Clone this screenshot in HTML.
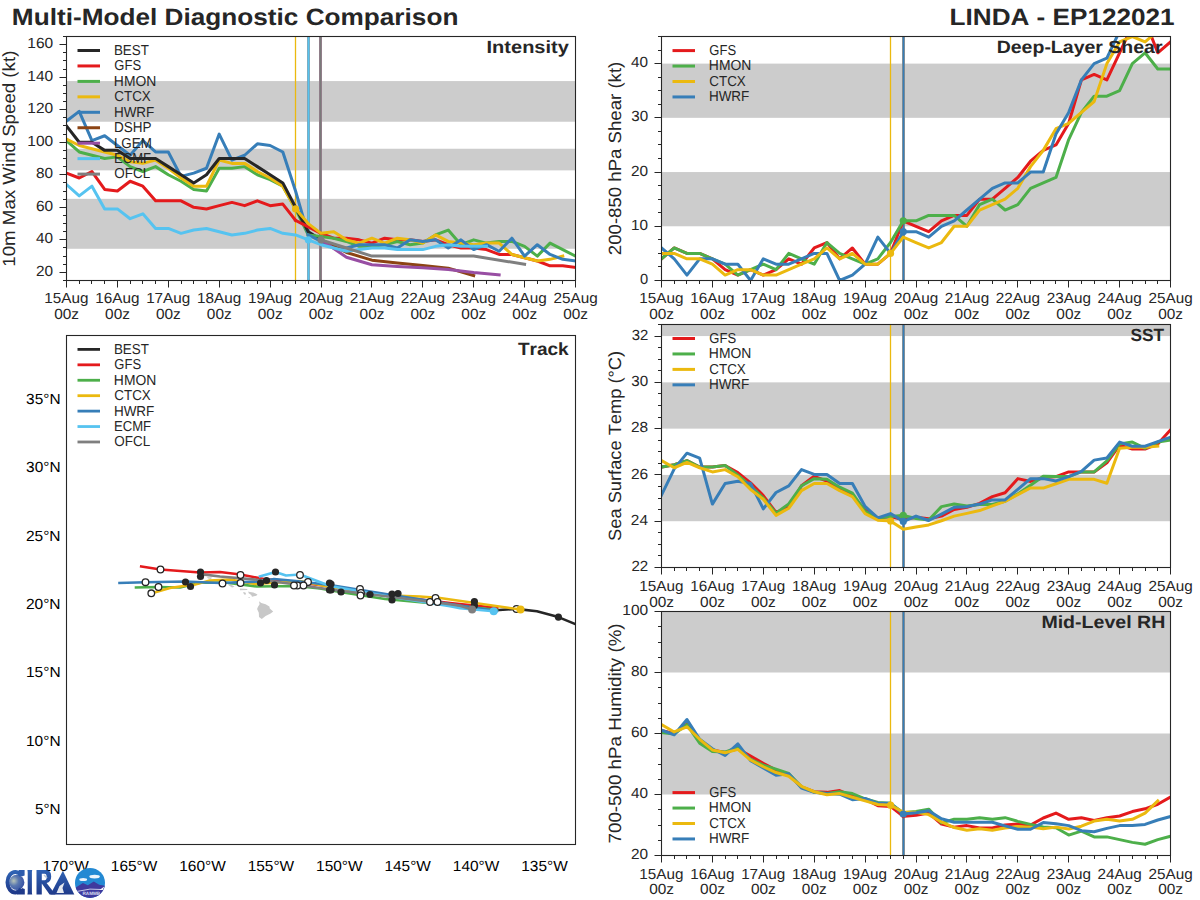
<!DOCTYPE html>
<html><head><meta charset="utf-8"><style>
html,body{margin:0;padding:0;background:#fff;width:1200px;height:900px;overflow:hidden}
svg text{font-family:"Liberation Sans", sans-serif;font-kerning:none;text-rendering:geometricPrecision}
</style></head><body>
<svg width="1200" height="900" viewBox="0 0 1200 900" style="display:block">
<rect width="1200" height="900" fill="#ffffff"/>
<defs>
<clipPath id="a1"><rect x="66.5" y="36.5" width="509.0" height="244.0"/></clipPath>
<clipPath id="a2"><rect x="661.5" y="36.5" width="509.0" height="244.0"/></clipPath>
<clipPath id="a4"><rect x="661.5" y="324.5" width="509.0" height="243.0"/></clipPath>
<clipPath id="a5"><rect x="661.5" y="611.5" width="509.0" height="244.0"/></clipPath>
<clipPath id="tr"><rect x="66.5" y="335.5" width="509.0" height="509.0"/></clipPath>
</defs>
<text transform="translate(11.85,25.00) scale(1.1126,1)" font-size="23.54" font-weight="bold" fill="#262626">Multi-Model Diagnostic Comparison</text>
<text transform="translate(949.55,25.00) scale(1.1102,1)" font-size="23.54" font-weight="bold" fill="#262626">LINDA - EP122021</text>
<rect x="66.5" y="198.84" width="509.0" height="49.94" fill="#cccccc"/>
<rect x="66.5" y="148.74" width="509.0" height="21.63" fill="#cccccc"/>
<rect x="66.5" y="81.07" width="509.0" height="40.67" fill="#cccccc"/>
<line x1="295.50" y1="36.50" x2="295.50" y2="280.50" stroke="#ebb90f" stroke-width="1.3" />
<line x1="308.50" y1="36.50" x2="308.50" y2="280.50" stroke="#7a9fad" stroke-width="2.8" />
<line x1="308.50" y1="36.50" x2="308.50" y2="280.50" stroke="#56c3f0" stroke-width="1.5" />
<line x1="320.50" y1="36.50" x2="320.50" y2="280.50" stroke="#9a8090" stroke-width="3.0" />
<line x1="320.50" y1="36.50" x2="320.50" y2="280.50" stroke="#7a7a7a" stroke-width="1.6" />
<polyline points="66.50,173.14 79.22,178.02 91.95,171.51 104.67,189.41 117.40,191.03 130.12,181.27 142.85,186.15 155.57,200.79 168.30,200.79 181.03,200.79 193.75,207.30 206.48,208.93 219.20,205.67 231.93,202.42 244.65,205.67 257.38,200.79 270.10,205.67 282.82,204.05 295.55,220.31" fill="none" stroke="#e41a1c" stroke-width="3.0" stroke-linejoin="round" stroke-linecap="square" clip-path="url(#a1)" />
<polyline points="66.50,140.61 79.22,151.99 91.95,155.25 104.67,158.50 117.40,156.87 130.12,166.63 142.85,171.51 155.57,166.63 168.30,174.77 181.03,181.27 193.75,189.41 206.48,191.03 219.20,168.26 231.93,168.26 244.65,166.63 257.38,174.77 270.10,179.65 282.82,186.15 295.55,208.93 308.27,234.95" fill="none" stroke="#4daf4a" stroke-width="3.0" stroke-linejoin="round" stroke-linecap="square" clip-path="url(#a1)" />
<polyline points="66.50,121.09 79.22,111.33 91.95,140.61 104.67,135.73 117.40,145.49 130.12,155.25 142.85,140.61 155.57,151.99 168.30,151.99 181.03,176.39 193.75,173.14 206.48,168.26 219.20,134.10 231.93,160.13 244.65,155.25 257.38,143.86 270.10,145.49 282.82,151.99 295.55,191.03 308.27,234.95" fill="none" stroke="#377eb8" stroke-width="3.0" stroke-linejoin="round" stroke-linecap="square" clip-path="url(#a1)" />
<polyline points="66.50,138.98 79.22,145.49 91.95,148.74 104.67,151.99 117.40,155.25 130.12,161.75 142.85,163.38 155.57,160.13 168.30,168.26 181.03,178.02 193.75,186.15 206.48,186.15 219.20,160.13 231.93,163.38 244.65,163.38 257.38,171.51 270.10,178.02 282.82,186.15 295.55,208.93" fill="none" stroke="#ebb90f" stroke-width="3.0" stroke-linejoin="round" stroke-linecap="square" clip-path="url(#a1)" />
<polyline points="66.50,184.53 79.22,195.91 91.95,186.15 104.67,208.93 117.40,208.93 130.12,218.69 142.85,213.81 155.57,228.45 168.30,228.45 181.03,233.33 193.75,230.07 206.48,228.45 219.20,231.70 231.93,234.95 244.65,233.33 257.38,230.07 270.10,228.45 282.82,233.33 295.55,234.95 308.27,239.83" fill="none" stroke="#56c3f0" stroke-width="3.0" stroke-linejoin="round" stroke-linecap="square" clip-path="url(#a1)" />
<polyline points="66.50,125.97 79.22,142.23 91.95,142.23 104.67,150.37 117.40,150.37 130.12,158.50 142.85,158.50 155.57,158.50 168.30,166.63 181.03,174.77 193.75,182.90 206.48,174.77 219.20,158.50 231.93,158.50 244.65,158.50 257.38,166.63 270.10,174.77 282.82,182.90 295.55,207.30 308.27,231.70 321.00,239.83" fill="none" stroke="#262626" stroke-width="3.0" stroke-linejoin="round" stroke-linecap="square" clip-path="url(#a1)" />
<polyline points="295.55,220.31 308.27,226.82 321.00,233.33 333.73,238.21 346.45,238.21 359.17,239.83 371.90,243.09 384.62,238.21 397.35,239.83 410.08,239.83 422.80,241.46 435.52,239.83 448.25,244.71 460.98,247.97 473.70,247.97 486.42,249.59 499.15,254.47 511.88,254.47 524.60,257.73 537.33,260.98 550.05,265.86 562.77,265.86 575.50,267.49" fill="none" stroke="#e41a1c" stroke-width="3.0" stroke-linejoin="round" stroke-linecap="square" clip-path="url(#a1)" />
<polyline points="308.27,234.95 321.00,236.58 333.73,238.21 346.45,241.46 359.17,246.34 371.90,246.34 384.62,244.71 397.35,241.46 410.08,244.71 422.80,243.09 435.52,234.95 448.25,230.07 460.98,244.71 473.70,239.83 486.42,243.09 499.15,241.46 511.88,241.46 524.60,246.34 537.33,256.10 550.05,243.09 562.77,249.59 575.50,256.10" fill="none" stroke="#4daf4a" stroke-width="3.0" stroke-linejoin="round" stroke-linecap="square" clip-path="url(#a1)" />
<polyline points="295.55,208.93 308.27,223.57 321.00,233.33 333.73,231.70 346.45,239.83 359.17,243.09 371.90,238.21 384.62,243.09 397.35,238.21 410.08,239.83 422.80,243.09 435.52,234.95 448.25,241.46 460.98,243.09 473.70,244.71 486.42,243.09 499.15,243.09 511.88,254.47 524.60,257.73 537.33,260.98 550.05,259.35 562.77,256.10" fill="none" stroke="#ebb90f" stroke-width="3.0" stroke-linejoin="round" stroke-linecap="square" clip-path="url(#a1)" />
<polyline points="308.27,234.95 321.00,241.46 333.73,247.97 346.45,247.97 359.17,244.71 371.90,244.71 384.62,244.71 397.35,247.97 410.08,239.83 422.80,241.46 435.52,239.83 448.25,247.97 460.98,239.83 473.70,249.59 486.42,244.71 499.15,251.22 511.88,238.21 524.60,256.10 537.33,244.71 550.05,254.47 562.77,259.35 575.50,260.98" fill="none" stroke="#377eb8" stroke-width="3.0" stroke-linejoin="round" stroke-linecap="square" clip-path="url(#a1)" />
<polyline points="321.00,239.83 346.45,252.52 371.90,260.17 397.35,262.93 422.80,265.53 448.25,268.14 473.70,275.62" fill="none" stroke="#8c4414" stroke-width="3.0" stroke-linejoin="round" stroke-linecap="square" clip-path="url(#a1)" />
<polyline points="321.00,239.83 346.45,257.24 371.90,264.72 397.35,266.51 422.80,267.81 448.25,269.44 473.70,272.53 499.15,274.97" fill="none" stroke="#984ea3" stroke-width="3.0" stroke-linejoin="round" stroke-linecap="square" clip-path="url(#a1)" />
<polyline points="308.27,239.83 321.00,244.71 333.73,247.97 346.45,251.22 359.17,249.59 371.90,247.97 384.62,247.97 397.35,249.59 410.08,249.59 422.80,249.59 435.52,246.34 448.25,244.71 460.98,246.34 473.70,246.34 486.42,246.34" fill="none" stroke="#56c3f0" stroke-width="3.0" stroke-linejoin="round" stroke-linecap="square" clip-path="url(#a1)" />
<polyline points="321.00,239.83 346.45,247.97 371.90,256.10 473.70,256.10 524.60,264.23" fill="none" stroke="#7f7f7f" stroke-width="3.0" stroke-linejoin="round" stroke-linecap="square" clip-path="url(#a1)" />
<circle cx="295.55" cy="208.93" r="3.6" fill="#ebb90f" stroke="none" stroke-width="0"/>
<circle cx="308.27" cy="239.83" r="3.6" fill="#56c3f0" stroke="none" stroke-width="0"/>
<circle cx="321.00" cy="239.83" r="3.6" fill="#7f7f7f" stroke="none" stroke-width="0"/>
<rect x="66.5" y="36.5" width="509.0" height="244.0" fill="none" stroke="#262626" stroke-width="1.1"/>
<line x1="63.00" y1="280.50" x2="66.50" y2="280.50" stroke="#262626" stroke-width="1.0" />
<line x1="63.00" y1="272.50" x2="66.50" y2="272.50" stroke="#262626" stroke-width="1.0" />
<line x1="63.00" y1="264.50" x2="66.50" y2="264.50" stroke="#262626" stroke-width="1.0" />
<line x1="63.00" y1="256.50" x2="66.50" y2="256.50" stroke="#262626" stroke-width="1.0" />
<line x1="63.00" y1="247.50" x2="66.50" y2="247.50" stroke="#262626" stroke-width="1.0" />
<line x1="63.00" y1="239.50" x2="66.50" y2="239.50" stroke="#262626" stroke-width="1.0" />
<line x1="63.00" y1="231.50" x2="66.50" y2="231.50" stroke="#262626" stroke-width="1.0" />
<line x1="63.00" y1="223.50" x2="66.50" y2="223.50" stroke="#262626" stroke-width="1.0" />
<line x1="63.00" y1="215.50" x2="66.50" y2="215.50" stroke="#262626" stroke-width="1.0" />
<line x1="63.00" y1="207.50" x2="66.50" y2="207.50" stroke="#262626" stroke-width="1.0" />
<line x1="63.00" y1="199.50" x2="66.50" y2="199.50" stroke="#262626" stroke-width="1.0" />
<line x1="63.00" y1="191.50" x2="66.50" y2="191.50" stroke="#262626" stroke-width="1.0" />
<line x1="63.00" y1="182.50" x2="66.50" y2="182.50" stroke="#262626" stroke-width="1.0" />
<line x1="63.00" y1="174.50" x2="66.50" y2="174.50" stroke="#262626" stroke-width="1.0" />
<line x1="63.00" y1="166.50" x2="66.50" y2="166.50" stroke="#262626" stroke-width="1.0" />
<line x1="63.00" y1="158.50" x2="66.50" y2="158.50" stroke="#262626" stroke-width="1.0" />
<line x1="63.00" y1="150.50" x2="66.50" y2="150.50" stroke="#262626" stroke-width="1.0" />
<line x1="63.00" y1="142.50" x2="66.50" y2="142.50" stroke="#262626" stroke-width="1.0" />
<line x1="63.00" y1="134.50" x2="66.50" y2="134.50" stroke="#262626" stroke-width="1.0" />
<line x1="63.00" y1="125.50" x2="66.50" y2="125.50" stroke="#262626" stroke-width="1.0" />
<line x1="63.00" y1="117.50" x2="66.50" y2="117.50" stroke="#262626" stroke-width="1.0" />
<line x1="63.00" y1="109.50" x2="66.50" y2="109.50" stroke="#262626" stroke-width="1.0" />
<line x1="63.00" y1="101.50" x2="66.50" y2="101.50" stroke="#262626" stroke-width="1.0" />
<line x1="63.00" y1="93.50" x2="66.50" y2="93.50" stroke="#262626" stroke-width="1.0" />
<line x1="63.00" y1="85.50" x2="66.50" y2="85.50" stroke="#262626" stroke-width="1.0" />
<line x1="63.00" y1="77.50" x2="66.50" y2="77.50" stroke="#262626" stroke-width="1.0" />
<line x1="63.00" y1="69.50" x2="66.50" y2="69.50" stroke="#262626" stroke-width="1.0" />
<line x1="63.00" y1="60.50" x2="66.50" y2="60.50" stroke="#262626" stroke-width="1.0" />
<line x1="63.00" y1="52.50" x2="66.50" y2="52.50" stroke="#262626" stroke-width="1.0" />
<line x1="63.00" y1="44.50" x2="66.50" y2="44.50" stroke="#262626" stroke-width="1.0" />
<line x1="63.00" y1="36.50" x2="66.50" y2="36.50" stroke="#262626" stroke-width="1.0" />
<line x1="59.50" y1="272.50" x2="66.50" y2="272.50" stroke="#262626" stroke-width="1.0" />
<text transform="translate(35.99,275.97) scale(1.0451,1)" font-size="14.72" font-weight="normal" fill="#262626">20</text>
<line x1="59.50" y1="239.50" x2="66.50" y2="239.50" stroke="#262626" stroke-width="1.0" />
<text transform="translate(36.07,243.43) scale(1.0398,1)" font-size="14.72" font-weight="normal" fill="#262626">40</text>
<line x1="59.50" y1="207.50" x2="66.50" y2="207.50" stroke="#262626" stroke-width="1.0" />
<text transform="translate(35.93,210.90) scale(1.0488,1)" font-size="14.72" font-weight="normal" fill="#262626">60</text>
<line x1="59.50" y1="174.50" x2="66.50" y2="174.50" stroke="#262626" stroke-width="1.0" />
<text transform="translate(36.02,178.37) scale(1.0431,1)" font-size="14.72" font-weight="normal" fill="#262626">80</text>
<line x1="59.50" y1="142.50" x2="66.50" y2="142.50" stroke="#262626" stroke-width="1.0" />
<text transform="translate(27.26,145.83) scale(1.0526,1)" font-size="14.72" font-weight="normal" fill="#262626">100</text>
<line x1="59.50" y1="109.50" x2="66.50" y2="109.50" stroke="#262626" stroke-width="1.0" />
<text transform="translate(27.26,113.30) scale(1.0526,1)" font-size="14.72" font-weight="normal" fill="#262626">120</text>
<line x1="59.50" y1="77.50" x2="66.50" y2="77.50" stroke="#262626" stroke-width="1.0" />
<text transform="translate(27.26,80.77) scale(1.0526,1)" font-size="14.72" font-weight="normal" fill="#262626">140</text>
<line x1="59.50" y1="44.50" x2="66.50" y2="44.50" stroke="#262626" stroke-width="1.0" />
<text transform="translate(27.26,48.23) scale(1.0526,1)" font-size="14.72" font-weight="normal" fill="#262626">160</text>
<line x1="66.50" y1="280.50" x2="66.50" y2="287.50" stroke="#262626" stroke-width="1.0" />
<line x1="79.50" y1="280.50" x2="79.50" y2="284.00" stroke="#262626" stroke-width="1.0" />
<line x1="91.50" y1="280.50" x2="91.50" y2="284.00" stroke="#262626" stroke-width="1.0" />
<line x1="104.50" y1="280.50" x2="104.50" y2="284.00" stroke="#262626" stroke-width="1.0" />
<line x1="117.50" y1="280.50" x2="117.50" y2="287.50" stroke="#262626" stroke-width="1.0" />
<line x1="130.50" y1="280.50" x2="130.50" y2="284.00" stroke="#262626" stroke-width="1.0" />
<line x1="142.50" y1="280.50" x2="142.50" y2="284.00" stroke="#262626" stroke-width="1.0" />
<line x1="155.50" y1="280.50" x2="155.50" y2="284.00" stroke="#262626" stroke-width="1.0" />
<line x1="168.50" y1="280.50" x2="168.50" y2="287.50" stroke="#262626" stroke-width="1.0" />
<line x1="181.50" y1="280.50" x2="181.50" y2="284.00" stroke="#262626" stroke-width="1.0" />
<line x1="193.50" y1="280.50" x2="193.50" y2="284.00" stroke="#262626" stroke-width="1.0" />
<line x1="206.50" y1="280.50" x2="206.50" y2="284.00" stroke="#262626" stroke-width="1.0" />
<line x1="219.50" y1="280.50" x2="219.50" y2="287.50" stroke="#262626" stroke-width="1.0" />
<line x1="231.50" y1="280.50" x2="231.50" y2="284.00" stroke="#262626" stroke-width="1.0" />
<line x1="244.50" y1="280.50" x2="244.50" y2="284.00" stroke="#262626" stroke-width="1.0" />
<line x1="257.50" y1="280.50" x2="257.50" y2="284.00" stroke="#262626" stroke-width="1.0" />
<line x1="270.50" y1="280.50" x2="270.50" y2="287.50" stroke="#262626" stroke-width="1.0" />
<line x1="282.50" y1="280.50" x2="282.50" y2="284.00" stroke="#262626" stroke-width="1.0" />
<line x1="295.50" y1="280.50" x2="295.50" y2="284.00" stroke="#262626" stroke-width="1.0" />
<line x1="308.50" y1="280.50" x2="308.50" y2="284.00" stroke="#262626" stroke-width="1.0" />
<line x1="321.50" y1="280.50" x2="321.50" y2="287.50" stroke="#262626" stroke-width="1.0" />
<line x1="333.50" y1="280.50" x2="333.50" y2="284.00" stroke="#262626" stroke-width="1.0" />
<line x1="346.50" y1="280.50" x2="346.50" y2="284.00" stroke="#262626" stroke-width="1.0" />
<line x1="359.50" y1="280.50" x2="359.50" y2="284.00" stroke="#262626" stroke-width="1.0" />
<line x1="371.50" y1="280.50" x2="371.50" y2="287.50" stroke="#262626" stroke-width="1.0" />
<line x1="384.50" y1="280.50" x2="384.50" y2="284.00" stroke="#262626" stroke-width="1.0" />
<line x1="397.50" y1="280.50" x2="397.50" y2="284.00" stroke="#262626" stroke-width="1.0" />
<line x1="410.50" y1="280.50" x2="410.50" y2="284.00" stroke="#262626" stroke-width="1.0" />
<line x1="422.50" y1="280.50" x2="422.50" y2="287.50" stroke="#262626" stroke-width="1.0" />
<line x1="435.50" y1="280.50" x2="435.50" y2="284.00" stroke="#262626" stroke-width="1.0" />
<line x1="448.50" y1="280.50" x2="448.50" y2="284.00" stroke="#262626" stroke-width="1.0" />
<line x1="460.50" y1="280.50" x2="460.50" y2="284.00" stroke="#262626" stroke-width="1.0" />
<line x1="473.50" y1="280.50" x2="473.50" y2="287.50" stroke="#262626" stroke-width="1.0" />
<line x1="486.50" y1="280.50" x2="486.50" y2="284.00" stroke="#262626" stroke-width="1.0" />
<line x1="499.50" y1="280.50" x2="499.50" y2="284.00" stroke="#262626" stroke-width="1.0" />
<line x1="511.50" y1="280.50" x2="511.50" y2="284.00" stroke="#262626" stroke-width="1.0" />
<line x1="524.50" y1="280.50" x2="524.50" y2="287.50" stroke="#262626" stroke-width="1.0" />
<line x1="537.50" y1="280.50" x2="537.50" y2="284.00" stroke="#262626" stroke-width="1.0" />
<line x1="550.50" y1="280.50" x2="550.50" y2="284.00" stroke="#262626" stroke-width="1.0" />
<line x1="562.50" y1="280.50" x2="562.50" y2="284.00" stroke="#262626" stroke-width="1.0" />
<line x1="575.50" y1="280.50" x2="575.50" y2="287.50" stroke="#262626" stroke-width="1.0" />
<text transform="translate(44.33,303.00) scale(1.0376,1)" font-size="14.72" font-weight="normal" fill="#262626">15Aug</text>
<text transform="translate(54.17,318.50) scale(1.0460,1)" font-size="14.72" font-weight="normal" fill="#262626">00z</text>
<text transform="translate(95.23,303.00) scale(1.0376,1)" font-size="14.72" font-weight="normal" fill="#262626">16Aug</text>
<text transform="translate(105.07,318.50) scale(1.0460,1)" font-size="14.72" font-weight="normal" fill="#262626">00z</text>
<text transform="translate(146.13,303.00) scale(1.0376,1)" font-size="14.72" font-weight="normal" fill="#262626">17Aug</text>
<text transform="translate(155.97,318.50) scale(1.0460,1)" font-size="14.72" font-weight="normal" fill="#262626">00z</text>
<text transform="translate(197.03,303.00) scale(1.0376,1)" font-size="14.72" font-weight="normal" fill="#262626">18Aug</text>
<text transform="translate(206.87,318.50) scale(1.0460,1)" font-size="14.72" font-weight="normal" fill="#262626">00z</text>
<text transform="translate(247.93,303.00) scale(1.0376,1)" font-size="14.72" font-weight="normal" fill="#262626">19Aug</text>
<text transform="translate(257.77,318.50) scale(1.0460,1)" font-size="14.72" font-weight="normal" fill="#262626">00z</text>
<text transform="translate(298.97,303.00) scale(1.0403,1)" font-size="14.72" font-weight="normal" fill="#262626">20Aug</text>
<text transform="translate(308.67,318.50) scale(1.0460,1)" font-size="14.72" font-weight="normal" fill="#262626">00z</text>
<text transform="translate(349.87,303.00) scale(1.0403,1)" font-size="14.72" font-weight="normal" fill="#262626">21Aug</text>
<text transform="translate(359.57,318.50) scale(1.0460,1)" font-size="14.72" font-weight="normal" fill="#262626">00z</text>
<text transform="translate(400.77,303.00) scale(1.0403,1)" font-size="14.72" font-weight="normal" fill="#262626">22Aug</text>
<text transform="translate(410.47,318.50) scale(1.0460,1)" font-size="14.72" font-weight="normal" fill="#262626">00z</text>
<text transform="translate(451.67,303.00) scale(1.0403,1)" font-size="14.72" font-weight="normal" fill="#262626">23Aug</text>
<text transform="translate(461.37,318.50) scale(1.0460,1)" font-size="14.72" font-weight="normal" fill="#262626">00z</text>
<text transform="translate(502.57,303.00) scale(1.0403,1)" font-size="14.72" font-weight="normal" fill="#262626">24Aug</text>
<text transform="translate(512.27,318.50) scale(1.0460,1)" font-size="14.72" font-weight="normal" fill="#262626">00z</text>
<text transform="translate(553.47,303.00) scale(1.0403,1)" font-size="14.72" font-weight="normal" fill="#262626">25Aug</text>
<text transform="translate(563.17,318.50) scale(1.0460,1)" font-size="14.72" font-weight="normal" fill="#262626">00z</text>
<text transform="translate(14.90,158.50) rotate(-90) translate(-108.20,0) scale(1.0586,1)" font-size="17.66" font-weight="normal" fill="#262626">10m Max Wind Speed (kt)</text>
<text transform="translate(486.56,52.70) scale(1.1331,1)" font-size="17.66" font-weight="bold" fill="#262626">Intensity</text>
<line x1="77.50" y1="50.50" x2="100.00" y2="50.50" stroke="#262626" stroke-width="3.0" />
<text transform="translate(113.90,54.80) scale(0.9292,1)" font-size="14.41" font-weight="normal" fill="#262626">BEST</text>
<line x1="77.50" y1="65.95" x2="100.00" y2="65.95" stroke="#e41a1c" stroke-width="3.0" />
<text transform="translate(114.35,70.25) scale(0.9021,1)" font-size="14.41" font-weight="normal" fill="#262626">GFS</text>
<line x1="77.50" y1="81.40" x2="100.00" y2="81.40" stroke="#4daf4a" stroke-width="3.0" />
<text transform="translate(113.86,85.70) scale(0.9640,1)" font-size="14.41" font-weight="normal" fill="#262626">HMON</text>
<line x1="77.50" y1="96.85" x2="100.00" y2="96.85" stroke="#ebb90f" stroke-width="3.0" />
<text transform="translate(114.32,101.15) scale(0.9276,1)" font-size="14.41" font-weight="normal" fill="#262626">CTCX</text>
<line x1="77.50" y1="112.30" x2="100.00" y2="112.30" stroke="#377eb8" stroke-width="3.0" />
<text transform="translate(113.89,116.60) scale(0.9364,1)" font-size="14.41" font-weight="normal" fill="#262626">HWRF</text>
<line x1="77.50" y1="127.75" x2="100.00" y2="127.75" stroke="#8c4414" stroke-width="3.0" />
<text transform="translate(113.89,132.05) scale(0.9380,1)" font-size="14.41" font-weight="normal" fill="#262626">DSHP</text>
<line x1="77.50" y1="143.20" x2="100.00" y2="143.20" stroke="#984ea3" stroke-width="3.0" />
<text transform="translate(113.90,147.50) scale(0.9299,1)" font-size="14.41" font-weight="normal" fill="#262626">LGEM</text>
<line x1="77.50" y1="158.65" x2="100.00" y2="158.65" stroke="#56c3f0" stroke-width="3.0" />
<text transform="translate(113.93,162.95) scale(0.9092,1)" font-size="14.41" font-weight="normal" fill="#262626">ECMF</text>
<line x1="77.50" y1="174.10" x2="100.00" y2="174.10" stroke="#7f7f7f" stroke-width="3.0" />
<text transform="translate(114.36,178.40) scale(0.9327,1)" font-size="14.41" font-weight="normal" fill="#262626">OFCL</text>
<rect x="661.5" y="172.06" width="509.0" height="54.22" fill="#cccccc"/>
<rect x="661.5" y="63.61" width="509.0" height="54.22" fill="#cccccc"/>
<line x1="890.50" y1="36.50" x2="890.50" y2="280.50" stroke="#ebb90f" stroke-width="1.3" />
<line x1="903.50" y1="36.50" x2="903.50" y2="280.50" stroke="#8a8a85" stroke-width="2.8" />
<line x1="903.50" y1="36.50" x2="903.50" y2="280.50" stroke="#377eb8" stroke-width="1.5" />
<polyline points="661.50,258.81 674.23,247.97 686.95,253.39 699.67,253.39 712.40,258.81 725.12,269.66 737.85,275.08 750.58,269.66 763.30,275.08 776.02,269.66 788.75,258.81 801.48,264.23 814.20,247.97 826.92,242.54 839.65,258.81 852.38,247.97 865.10,264.23 877.83,264.23 890.55,253.39 903.27,220.86" fill="none" stroke="#e41a1c" stroke-width="3.0" stroke-linejoin="round" stroke-linecap="square" clip-path="url(#a2)" />
<polyline points="661.50,258.81 674.23,247.97 686.95,253.39 699.67,253.39 712.40,258.81 725.12,264.23 737.85,275.08 750.58,269.66 763.30,264.23 776.02,269.66 788.75,253.39 801.48,258.81 814.20,264.23 826.92,242.54 839.65,253.39 852.38,258.81 865.10,264.23 877.83,258.81 890.55,242.54 903.27,220.86" fill="none" stroke="#4daf4a" stroke-width="3.0" stroke-linejoin="round" stroke-linecap="square" clip-path="url(#a2)" />
<polyline points="661.50,247.97 674.23,258.81 686.95,275.08 699.67,258.81 712.40,258.81 725.12,264.23 737.85,264.23 750.58,280.50 763.30,258.81 776.02,264.23 788.75,264.23 801.48,258.81 814.20,253.39 826.92,253.39 839.65,280.50 852.38,275.08 865.10,264.23 877.83,237.12 890.55,253.39 903.27,231.70" fill="none" stroke="#377eb8" stroke-width="3.0" stroke-linejoin="round" stroke-linecap="square" clip-path="url(#a2)" />
<polyline points="661.50,253.39 674.23,253.39 686.95,258.81 699.67,258.81 712.40,264.23 725.12,275.08 737.85,269.66 750.58,269.66 763.30,275.08 776.02,275.08 788.75,269.66 801.48,264.23 814.20,258.81 826.92,247.97 839.65,258.81 852.38,253.39 865.10,264.23 877.83,264.23 890.55,253.39" fill="none" stroke="#ebb90f" stroke-width="3.0" stroke-linejoin="round" stroke-linecap="square" clip-path="url(#a2)" />
<polyline points="903.27,220.86 916.00,226.28 928.73,231.70 941.45,220.86 954.17,215.43 966.90,215.43 979.62,199.17 992.35,199.17 1005.08,188.32 1017.80,177.48 1030.53,161.21 1043.25,150.37 1055.97,144.94 1068.70,123.26 1081.42,79.88 1094.15,74.46 1106.88,79.88 1119.60,52.77 1132.33,25.66 1145.05,20.23 1157.78,52.77 1170.50,41.92" fill="none" stroke="#e41a1c" stroke-width="3.0" stroke-linejoin="round" stroke-linecap="square" clip-path="url(#a2)" />
<polyline points="903.27,220.86 916.00,220.86 928.73,215.43 941.45,215.43 954.17,215.43 966.90,226.28 979.62,204.59 992.35,199.17 1005.08,210.01 1017.80,204.59 1030.53,188.32 1043.25,182.90 1055.97,177.48 1068.70,139.52 1081.42,112.41 1094.15,96.14 1106.88,96.14 1119.60,90.72 1132.33,63.61 1145.05,52.77 1157.78,69.03 1170.50,69.03" fill="none" stroke="#4daf4a" stroke-width="3.0" stroke-linejoin="round" stroke-linecap="square" clip-path="url(#a2)" />
<polyline points="890.55,253.39 903.27,237.12 916.00,242.54 928.73,247.97 941.45,242.54 954.17,226.28 966.90,226.28 979.62,210.01 992.35,204.59 1005.08,199.17 1017.80,188.32 1030.53,166.63 1043.25,150.37 1055.97,128.68 1068.70,123.26 1081.42,112.41 1094.15,101.57 1106.88,63.61 1119.60,41.92 1132.33,36.50 1145.05,41.92 1157.78,31.08 1170.50,20.23" fill="none" stroke="#ebb90f" stroke-width="3.0" stroke-linejoin="round" stroke-linecap="square" clip-path="url(#a2)" />
<polyline points="903.27,231.70 916.00,231.70 928.73,237.12 941.45,226.28 954.17,220.86 966.90,210.01 979.62,199.17 992.35,188.32 1005.08,182.90 1017.80,182.90 1030.53,172.06 1043.25,172.06 1055.97,134.10 1068.70,112.41 1081.42,79.88 1094.15,63.61 1106.88,58.19 1119.60,31.08 1132.33,20.23 1145.05,9.39 1157.78,9.39 1170.50,9.39" fill="none" stroke="#377eb8" stroke-width="3.0" stroke-linejoin="round" stroke-linecap="square" clip-path="url(#a2)" />
<circle cx="890.55" cy="253.39" r="3.6" fill="#ebb90f" stroke="none" stroke-width="0"/>
<circle cx="903.27" cy="220.86" r="3.6" fill="#4daf4a" stroke="none" stroke-width="0"/>
<circle cx="903.27" cy="231.70" r="3.6" fill="#377eb8" stroke="none" stroke-width="0"/>
<rect x="661.5" y="36.5" width="509.0" height="244.0" fill="none" stroke="#262626" stroke-width="1.1"/>
<line x1="658.00" y1="280.50" x2="661.50" y2="280.50" stroke="#262626" stroke-width="1.0" />
<line x1="658.00" y1="266.50" x2="661.50" y2="266.50" stroke="#262626" stroke-width="1.0" />
<line x1="658.00" y1="253.50" x2="661.50" y2="253.50" stroke="#262626" stroke-width="1.0" />
<line x1="658.00" y1="239.50" x2="661.50" y2="239.50" stroke="#262626" stroke-width="1.0" />
<line x1="658.00" y1="226.50" x2="661.50" y2="226.50" stroke="#262626" stroke-width="1.0" />
<line x1="658.00" y1="212.50" x2="661.50" y2="212.50" stroke="#262626" stroke-width="1.0" />
<line x1="658.00" y1="199.50" x2="661.50" y2="199.50" stroke="#262626" stroke-width="1.0" />
<line x1="658.00" y1="185.50" x2="661.50" y2="185.50" stroke="#262626" stroke-width="1.0" />
<line x1="658.00" y1="172.50" x2="661.50" y2="172.50" stroke="#262626" stroke-width="1.0" />
<line x1="658.00" y1="158.50" x2="661.50" y2="158.50" stroke="#262626" stroke-width="1.0" />
<line x1="658.00" y1="144.50" x2="661.50" y2="144.50" stroke="#262626" stroke-width="1.0" />
<line x1="658.00" y1="131.50" x2="661.50" y2="131.50" stroke="#262626" stroke-width="1.0" />
<line x1="658.00" y1="117.50" x2="661.50" y2="117.50" stroke="#262626" stroke-width="1.0" />
<line x1="658.00" y1="104.50" x2="661.50" y2="104.50" stroke="#262626" stroke-width="1.0" />
<line x1="658.00" y1="90.50" x2="661.50" y2="90.50" stroke="#262626" stroke-width="1.0" />
<line x1="658.00" y1="77.50" x2="661.50" y2="77.50" stroke="#262626" stroke-width="1.0" />
<line x1="658.00" y1="63.50" x2="661.50" y2="63.50" stroke="#262626" stroke-width="1.0" />
<line x1="658.00" y1="50.50" x2="661.50" y2="50.50" stroke="#262626" stroke-width="1.0" />
<line x1="658.00" y1="36.50" x2="661.50" y2="36.50" stroke="#262626" stroke-width="1.0" />
<line x1="654.50" y1="280.50" x2="661.50" y2="280.50" stroke="#262626" stroke-width="1.0" />
<text transform="translate(639.93,284.10) scale(0.9948,1)" font-size="14.72" font-weight="normal" fill="#262626">0</text>
<line x1="654.50" y1="226.50" x2="661.50" y2="226.50" stroke="#262626" stroke-width="1.0" />
<text transform="translate(631.11,229.88) scale(1.0376,1)" font-size="14.72" font-weight="normal" fill="#262626">10</text>
<line x1="654.50" y1="172.50" x2="661.50" y2="172.50" stroke="#262626" stroke-width="1.0" />
<text transform="translate(630.99,175.66) scale(1.0451,1)" font-size="14.72" font-weight="normal" fill="#262626">20</text>
<line x1="654.50" y1="117.50" x2="661.50" y2="117.50" stroke="#262626" stroke-width="1.0" />
<text transform="translate(631.23,121.43) scale(1.0301,1)" font-size="14.72" font-weight="normal" fill="#262626">30</text>
<line x1="654.50" y1="63.50" x2="661.50" y2="63.50" stroke="#262626" stroke-width="1.0" />
<text transform="translate(631.07,67.21) scale(1.0398,1)" font-size="14.72" font-weight="normal" fill="#262626">40</text>
<line x1="661.50" y1="280.50" x2="661.50" y2="287.50" stroke="#262626" stroke-width="1.0" />
<line x1="674.50" y1="280.50" x2="674.50" y2="284.00" stroke="#262626" stroke-width="1.0" />
<line x1="686.50" y1="280.50" x2="686.50" y2="284.00" stroke="#262626" stroke-width="1.0" />
<line x1="699.50" y1="280.50" x2="699.50" y2="284.00" stroke="#262626" stroke-width="1.0" />
<line x1="712.50" y1="280.50" x2="712.50" y2="287.50" stroke="#262626" stroke-width="1.0" />
<line x1="725.50" y1="280.50" x2="725.50" y2="284.00" stroke="#262626" stroke-width="1.0" />
<line x1="737.50" y1="280.50" x2="737.50" y2="284.00" stroke="#262626" stroke-width="1.0" />
<line x1="750.50" y1="280.50" x2="750.50" y2="284.00" stroke="#262626" stroke-width="1.0" />
<line x1="763.50" y1="280.50" x2="763.50" y2="287.50" stroke="#262626" stroke-width="1.0" />
<line x1="776.50" y1="280.50" x2="776.50" y2="284.00" stroke="#262626" stroke-width="1.0" />
<line x1="788.50" y1="280.50" x2="788.50" y2="284.00" stroke="#262626" stroke-width="1.0" />
<line x1="801.50" y1="280.50" x2="801.50" y2="284.00" stroke="#262626" stroke-width="1.0" />
<line x1="814.50" y1="280.50" x2="814.50" y2="287.50" stroke="#262626" stroke-width="1.0" />
<line x1="826.50" y1="280.50" x2="826.50" y2="284.00" stroke="#262626" stroke-width="1.0" />
<line x1="839.50" y1="280.50" x2="839.50" y2="284.00" stroke="#262626" stroke-width="1.0" />
<line x1="852.50" y1="280.50" x2="852.50" y2="284.00" stroke="#262626" stroke-width="1.0" />
<line x1="865.50" y1="280.50" x2="865.50" y2="287.50" stroke="#262626" stroke-width="1.0" />
<line x1="877.50" y1="280.50" x2="877.50" y2="284.00" stroke="#262626" stroke-width="1.0" />
<line x1="890.50" y1="280.50" x2="890.50" y2="284.00" stroke="#262626" stroke-width="1.0" />
<line x1="903.50" y1="280.50" x2="903.50" y2="284.00" stroke="#262626" stroke-width="1.0" />
<line x1="916.50" y1="280.50" x2="916.50" y2="287.50" stroke="#262626" stroke-width="1.0" />
<line x1="928.50" y1="280.50" x2="928.50" y2="284.00" stroke="#262626" stroke-width="1.0" />
<line x1="941.50" y1="280.50" x2="941.50" y2="284.00" stroke="#262626" stroke-width="1.0" />
<line x1="954.50" y1="280.50" x2="954.50" y2="284.00" stroke="#262626" stroke-width="1.0" />
<line x1="966.50" y1="280.50" x2="966.50" y2="287.50" stroke="#262626" stroke-width="1.0" />
<line x1="979.50" y1="280.50" x2="979.50" y2="284.00" stroke="#262626" stroke-width="1.0" />
<line x1="992.50" y1="280.50" x2="992.50" y2="284.00" stroke="#262626" stroke-width="1.0" />
<line x1="1005.50" y1="280.50" x2="1005.50" y2="284.00" stroke="#262626" stroke-width="1.0" />
<line x1="1017.50" y1="280.50" x2="1017.50" y2="287.50" stroke="#262626" stroke-width="1.0" />
<line x1="1030.50" y1="280.50" x2="1030.50" y2="284.00" stroke="#262626" stroke-width="1.0" />
<line x1="1043.50" y1="280.50" x2="1043.50" y2="284.00" stroke="#262626" stroke-width="1.0" />
<line x1="1055.50" y1="280.50" x2="1055.50" y2="284.00" stroke="#262626" stroke-width="1.0" />
<line x1="1068.50" y1="280.50" x2="1068.50" y2="287.50" stroke="#262626" stroke-width="1.0" />
<line x1="1081.50" y1="280.50" x2="1081.50" y2="284.00" stroke="#262626" stroke-width="1.0" />
<line x1="1094.50" y1="280.50" x2="1094.50" y2="284.00" stroke="#262626" stroke-width="1.0" />
<line x1="1106.50" y1="280.50" x2="1106.50" y2="284.00" stroke="#262626" stroke-width="1.0" />
<line x1="1119.50" y1="280.50" x2="1119.50" y2="287.50" stroke="#262626" stroke-width="1.0" />
<line x1="1132.50" y1="280.50" x2="1132.50" y2="284.00" stroke="#262626" stroke-width="1.0" />
<line x1="1145.50" y1="280.50" x2="1145.50" y2="284.00" stroke="#262626" stroke-width="1.0" />
<line x1="1157.50" y1="280.50" x2="1157.50" y2="284.00" stroke="#262626" stroke-width="1.0" />
<line x1="1170.50" y1="280.50" x2="1170.50" y2="287.50" stroke="#262626" stroke-width="1.0" />
<text transform="translate(639.33,303.00) scale(1.0376,1)" font-size="14.72" font-weight="normal" fill="#262626">15Aug</text>
<text transform="translate(649.17,318.50) scale(1.0460,1)" font-size="14.72" font-weight="normal" fill="#262626">00z</text>
<text transform="translate(690.23,303.00) scale(1.0376,1)" font-size="14.72" font-weight="normal" fill="#262626">16Aug</text>
<text transform="translate(700.07,318.50) scale(1.0460,1)" font-size="14.72" font-weight="normal" fill="#262626">00z</text>
<text transform="translate(741.13,303.00) scale(1.0376,1)" font-size="14.72" font-weight="normal" fill="#262626">17Aug</text>
<text transform="translate(750.97,318.50) scale(1.0460,1)" font-size="14.72" font-weight="normal" fill="#262626">00z</text>
<text transform="translate(792.03,303.00) scale(1.0376,1)" font-size="14.72" font-weight="normal" fill="#262626">18Aug</text>
<text transform="translate(801.87,318.50) scale(1.0460,1)" font-size="14.72" font-weight="normal" fill="#262626">00z</text>
<text transform="translate(842.93,303.00) scale(1.0376,1)" font-size="14.72" font-weight="normal" fill="#262626">19Aug</text>
<text transform="translate(852.77,318.50) scale(1.0460,1)" font-size="14.72" font-weight="normal" fill="#262626">00z</text>
<text transform="translate(893.97,303.00) scale(1.0403,1)" font-size="14.72" font-weight="normal" fill="#262626">20Aug</text>
<text transform="translate(903.67,318.50) scale(1.0460,1)" font-size="14.72" font-weight="normal" fill="#262626">00z</text>
<text transform="translate(944.87,303.00) scale(1.0403,1)" font-size="14.72" font-weight="normal" fill="#262626">21Aug</text>
<text transform="translate(954.57,318.50) scale(1.0460,1)" font-size="14.72" font-weight="normal" fill="#262626">00z</text>
<text transform="translate(995.77,303.00) scale(1.0403,1)" font-size="14.72" font-weight="normal" fill="#262626">22Aug</text>
<text transform="translate(1005.47,318.50) scale(1.0460,1)" font-size="14.72" font-weight="normal" fill="#262626">00z</text>
<text transform="translate(1046.67,303.00) scale(1.0403,1)" font-size="14.72" font-weight="normal" fill="#262626">23Aug</text>
<text transform="translate(1056.37,318.50) scale(1.0460,1)" font-size="14.72" font-weight="normal" fill="#262626">00z</text>
<text transform="translate(1097.57,303.00) scale(1.0403,1)" font-size="14.72" font-weight="normal" fill="#262626">24Aug</text>
<text transform="translate(1107.27,318.50) scale(1.0460,1)" font-size="14.72" font-weight="normal" fill="#262626">00z</text>
<text transform="translate(1148.47,303.00) scale(1.0403,1)" font-size="14.72" font-weight="normal" fill="#262626">25Aug</text>
<text transform="translate(1158.17,318.50) scale(1.0460,1)" font-size="14.72" font-weight="normal" fill="#262626">00z</text>
<text transform="translate(620.90,158.50) rotate(-90) translate(-96.63,0) scale(1.0538,1)" font-size="17.66" font-weight="normal" fill="#262626">200-850 hPa Shear (kt)</text>
<text transform="translate(996.69,52.50) scale(1.1045,1)" font-size="17.66" font-weight="bold" fill="#262626">Deep-Layer Shear</text>
<line x1="672.50" y1="50.60" x2="695.00" y2="50.60" stroke="#e41a1c" stroke-width="3.0" />
<text transform="translate(709.35,54.90) scale(0.9021,1)" font-size="14.41" font-weight="normal" fill="#262626">GFS</text>
<line x1="672.50" y1="66.05" x2="695.00" y2="66.05" stroke="#4daf4a" stroke-width="3.0" />
<text transform="translate(708.86,70.35) scale(0.9640,1)" font-size="14.41" font-weight="normal" fill="#262626">HMON</text>
<line x1="672.50" y1="81.50" x2="695.00" y2="81.50" stroke="#ebb90f" stroke-width="3.0" />
<text transform="translate(709.32,85.80) scale(0.9276,1)" font-size="14.41" font-weight="normal" fill="#262626">CTCX</text>
<line x1="672.50" y1="96.95" x2="695.00" y2="96.95" stroke="#377eb8" stroke-width="3.0" />
<text transform="translate(708.89,101.25) scale(0.9364,1)" font-size="14.41" font-weight="normal" fill="#262626">HWRF</text>
<rect x="661.5" y="474.93" width="509.0" height="46.29" fill="#cccccc"/>
<rect x="661.5" y="382.36" width="509.0" height="46.29" fill="#cccccc"/>
<rect x="661.5" y="324.50" width="509.0" height="11.57" fill="#cccccc"/>
<line x1="890.50" y1="324.50" x2="890.50" y2="567.50" stroke="#ebb90f" stroke-width="1.3" />
<line x1="903.50" y1="324.50" x2="903.50" y2="567.50" stroke="#8a8a85" stroke-width="2.8" />
<line x1="903.50" y1="324.50" x2="903.50" y2="567.50" stroke="#377eb8" stroke-width="1.5" />
<polyline points="661.50,467.06 674.23,464.75 686.95,460.58 699.67,467.06 712.40,467.06 725.12,465.44 737.85,472.61 750.58,482.80 763.30,495.53 776.02,512.42 788.75,507.33 801.48,485.81 814.20,476.32 826.92,481.18 839.65,488.35 852.38,495.53 865.10,510.11 877.83,517.97 890.55,516.59 903.27,519.59" fill="none" stroke="#e41a1c" stroke-width="3.0" stroke-linejoin="round" stroke-linecap="square" clip-path="url(#a4)" />
<polyline points="661.50,467.06 674.23,464.75 686.95,460.58 699.67,467.06 712.40,467.06 725.12,465.44 737.85,475.16 750.58,485.81 763.30,498.07 776.02,513.11 788.75,503.86 801.48,485.81 814.20,478.63 826.92,479.33 839.65,487.19 852.38,493.21 865.10,511.26 877.83,517.97 890.55,516.59 903.27,515.43" fill="none" stroke="#4daf4a" stroke-width="3.0" stroke-linejoin="round" stroke-linecap="square" clip-path="url(#a4)" />
<polyline points="661.50,495.06 674.23,468.91 686.95,453.17 699.67,458.03 712.40,504.09 725.12,483.49 737.85,481.18 750.58,483.49 763.30,508.95 776.02,492.52 788.75,485.81 801.48,469.61 814.20,474.47 826.92,474.47 839.65,483.49 852.38,483.49 865.10,506.40 877.83,517.97 890.55,513.58 903.27,521.45" fill="none" stroke="#377eb8" stroke-width="3.0" stroke-linejoin="round" stroke-linecap="square" clip-path="url(#a4)" />
<polyline points="661.50,460.58 674.23,467.75 686.95,462.43 699.67,467.75 712.40,471.92 725.12,469.61 737.85,476.78 750.58,489.51 763.30,499.23 776.02,515.43 788.75,508.25 801.48,490.67 814.20,483.49 826.92,483.49 839.65,490.67 852.38,496.68 865.10,513.58 877.83,520.29 890.55,520.98" fill="none" stroke="#ebb90f" stroke-width="3.0" stroke-linejoin="round" stroke-linecap="square" clip-path="url(#a4)" />
<polyline points="903.27,519.59 916.00,517.28 928.73,518.67 941.45,516.12 954.17,509.41 966.90,507.33 979.62,503.39 992.35,496.68 1005.08,492.75 1017.80,478.63 1030.53,481.41 1043.25,477.71 1055.97,476.55 1068.70,471.92 1081.42,471.92 1094.15,471.92 1106.88,462.89 1119.60,445.07 1132.33,449.01 1145.05,449.01 1157.78,443.92 1170.50,429.80" fill="none" stroke="#e41a1c" stroke-width="3.0" stroke-linejoin="round" stroke-linecap="square" clip-path="url(#a4)" />
<polyline points="903.27,515.43 916.00,518.44 928.73,520.06 941.45,506.63 954.17,504.09 966.90,505.94 979.62,504.55 992.35,504.55 1005.08,501.31 1017.80,493.91 1030.53,485.34 1043.25,476.32 1055.97,476.55 1068.70,476.55 1081.42,471.92 1094.15,471.92 1106.88,460.81 1119.60,443.92 1132.33,442.07 1145.05,448.31 1157.78,442.07 1170.50,439.98" fill="none" stroke="#4daf4a" stroke-width="3.0" stroke-linejoin="round" stroke-linecap="square" clip-path="url(#a4)" />
<polyline points="890.55,520.98 903.27,529.31 916.00,527.00 928.73,524.92 941.45,520.75 954.17,516.12 966.90,513.35 979.62,510.57 992.35,505.94 1005.08,501.31 1017.80,494.60 1030.53,487.89 1043.25,488.12 1055.97,483.72 1068.70,479.33 1081.42,479.33 1094.15,479.33 1106.88,483.26 1119.60,448.31 1132.33,447.16 1145.05,447.16 1157.78,446.23" fill="none" stroke="#ebb90f" stroke-width="3.0" stroke-linejoin="round" stroke-linecap="square" clip-path="url(#a4)" />
<polyline points="903.27,521.45 916.00,516.12 928.73,520.52 941.45,514.04 954.17,507.33 966.90,506.63 979.62,504.09 992.35,499.92 1005.08,499.92 1017.80,489.28 1030.53,478.63 1043.25,478.63 1055.97,480.95 1068.70,476.55 1081.42,471.46 1094.15,460.12 1106.88,458.03 1119.60,442.07 1132.33,446.23 1145.05,446.23 1157.78,441.60 1170.50,437.21" fill="none" stroke="#377eb8" stroke-width="3.0" stroke-linejoin="round" stroke-linecap="square" clip-path="url(#a4)" />
<circle cx="890.55" cy="520.98" r="3.6" fill="#ebb90f" stroke="none" stroke-width="0"/>
<circle cx="903.27" cy="515.43" r="3.6" fill="#4daf4a" stroke="none" stroke-width="0"/>
<circle cx="903.27" cy="521.45" r="3.6" fill="#377eb8" stroke="none" stroke-width="0"/>
<rect x="661.5" y="324.5" width="509.0" height="243.0" fill="none" stroke="#262626" stroke-width="1.1"/>
<line x1="658.00" y1="567.50" x2="661.50" y2="567.50" stroke="#262626" stroke-width="1.0" />
<line x1="658.00" y1="555.50" x2="661.50" y2="555.50" stroke="#262626" stroke-width="1.0" />
<line x1="658.00" y1="544.50" x2="661.50" y2="544.50" stroke="#262626" stroke-width="1.0" />
<line x1="658.00" y1="532.50" x2="661.50" y2="532.50" stroke="#262626" stroke-width="1.0" />
<line x1="658.00" y1="521.50" x2="661.50" y2="521.50" stroke="#262626" stroke-width="1.0" />
<line x1="658.00" y1="509.50" x2="661.50" y2="509.50" stroke="#262626" stroke-width="1.0" />
<line x1="658.00" y1="498.50" x2="661.50" y2="498.50" stroke="#262626" stroke-width="1.0" />
<line x1="658.00" y1="486.50" x2="661.50" y2="486.50" stroke="#262626" stroke-width="1.0" />
<line x1="658.00" y1="474.50" x2="661.50" y2="474.50" stroke="#262626" stroke-width="1.0" />
<line x1="658.00" y1="463.50" x2="661.50" y2="463.50" stroke="#262626" stroke-width="1.0" />
<line x1="658.00" y1="451.50" x2="661.50" y2="451.50" stroke="#262626" stroke-width="1.0" />
<line x1="658.00" y1="440.50" x2="661.50" y2="440.50" stroke="#262626" stroke-width="1.0" />
<line x1="658.00" y1="428.50" x2="661.50" y2="428.50" stroke="#262626" stroke-width="1.0" />
<line x1="658.00" y1="417.50" x2="661.50" y2="417.50" stroke="#262626" stroke-width="1.0" />
<line x1="658.00" y1="405.50" x2="661.50" y2="405.50" stroke="#262626" stroke-width="1.0" />
<line x1="658.00" y1="393.50" x2="661.50" y2="393.50" stroke="#262626" stroke-width="1.0" />
<line x1="658.00" y1="382.50" x2="661.50" y2="382.50" stroke="#262626" stroke-width="1.0" />
<line x1="658.00" y1="370.50" x2="661.50" y2="370.50" stroke="#262626" stroke-width="1.0" />
<line x1="658.00" y1="359.50" x2="661.50" y2="359.50" stroke="#262626" stroke-width="1.0" />
<line x1="658.00" y1="347.50" x2="661.50" y2="347.50" stroke="#262626" stroke-width="1.0" />
<line x1="658.00" y1="336.50" x2="661.50" y2="336.50" stroke="#262626" stroke-width="1.0" />
<line x1="658.00" y1="324.50" x2="661.50" y2="324.50" stroke="#262626" stroke-width="1.0" />
<line x1="654.50" y1="567.50" x2="661.50" y2="567.50" stroke="#262626" stroke-width="1.0" />
<text transform="translate(631.47,571.10) scale(1.0253,1)" font-size="14.72" font-weight="normal" fill="#262626">22</text>
<line x1="654.50" y1="521.50" x2="661.50" y2="521.50" stroke="#262626" stroke-width="1.0" />
<text transform="translate(630.85,524.81) scale(1.0446,1)" font-size="14.72" font-weight="normal" fill="#262626">24</text>
<line x1="654.50" y1="474.50" x2="661.50" y2="474.50" stroke="#262626" stroke-width="1.0" />
<text transform="translate(630.94,478.53) scale(1.0533,1)" font-size="14.72" font-weight="normal" fill="#262626">26</text>
<line x1="654.50" y1="428.50" x2="661.50" y2="428.50" stroke="#262626" stroke-width="1.0" />
<text transform="translate(631.02,432.24) scale(1.0478,1)" font-size="14.72" font-weight="normal" fill="#262626">28</text>
<line x1="654.50" y1="382.50" x2="661.50" y2="382.50" stroke="#262626" stroke-width="1.0" />
<text transform="translate(631.23,385.96) scale(1.0301,1)" font-size="14.72" font-weight="normal" fill="#262626">30</text>
<line x1="654.50" y1="336.50" x2="661.50" y2="336.50" stroke="#262626" stroke-width="1.0" />
<text transform="translate(631.71,339.67) scale(1.0104,1)" font-size="14.72" font-weight="normal" fill="#262626">32</text>
<line x1="661.50" y1="567.50" x2="661.50" y2="574.50" stroke="#262626" stroke-width="1.0" />
<line x1="674.50" y1="567.50" x2="674.50" y2="571.00" stroke="#262626" stroke-width="1.0" />
<line x1="686.50" y1="567.50" x2="686.50" y2="571.00" stroke="#262626" stroke-width="1.0" />
<line x1="699.50" y1="567.50" x2="699.50" y2="571.00" stroke="#262626" stroke-width="1.0" />
<line x1="712.50" y1="567.50" x2="712.50" y2="574.50" stroke="#262626" stroke-width="1.0" />
<line x1="725.50" y1="567.50" x2="725.50" y2="571.00" stroke="#262626" stroke-width="1.0" />
<line x1="737.50" y1="567.50" x2="737.50" y2="571.00" stroke="#262626" stroke-width="1.0" />
<line x1="750.50" y1="567.50" x2="750.50" y2="571.00" stroke="#262626" stroke-width="1.0" />
<line x1="763.50" y1="567.50" x2="763.50" y2="574.50" stroke="#262626" stroke-width="1.0" />
<line x1="776.50" y1="567.50" x2="776.50" y2="571.00" stroke="#262626" stroke-width="1.0" />
<line x1="788.50" y1="567.50" x2="788.50" y2="571.00" stroke="#262626" stroke-width="1.0" />
<line x1="801.50" y1="567.50" x2="801.50" y2="571.00" stroke="#262626" stroke-width="1.0" />
<line x1="814.50" y1="567.50" x2="814.50" y2="574.50" stroke="#262626" stroke-width="1.0" />
<line x1="826.50" y1="567.50" x2="826.50" y2="571.00" stroke="#262626" stroke-width="1.0" />
<line x1="839.50" y1="567.50" x2="839.50" y2="571.00" stroke="#262626" stroke-width="1.0" />
<line x1="852.50" y1="567.50" x2="852.50" y2="571.00" stroke="#262626" stroke-width="1.0" />
<line x1="865.50" y1="567.50" x2="865.50" y2="574.50" stroke="#262626" stroke-width="1.0" />
<line x1="877.50" y1="567.50" x2="877.50" y2="571.00" stroke="#262626" stroke-width="1.0" />
<line x1="890.50" y1="567.50" x2="890.50" y2="571.00" stroke="#262626" stroke-width="1.0" />
<line x1="903.50" y1="567.50" x2="903.50" y2="571.00" stroke="#262626" stroke-width="1.0" />
<line x1="916.50" y1="567.50" x2="916.50" y2="574.50" stroke="#262626" stroke-width="1.0" />
<line x1="928.50" y1="567.50" x2="928.50" y2="571.00" stroke="#262626" stroke-width="1.0" />
<line x1="941.50" y1="567.50" x2="941.50" y2="571.00" stroke="#262626" stroke-width="1.0" />
<line x1="954.50" y1="567.50" x2="954.50" y2="571.00" stroke="#262626" stroke-width="1.0" />
<line x1="966.50" y1="567.50" x2="966.50" y2="574.50" stroke="#262626" stroke-width="1.0" />
<line x1="979.50" y1="567.50" x2="979.50" y2="571.00" stroke="#262626" stroke-width="1.0" />
<line x1="992.50" y1="567.50" x2="992.50" y2="571.00" stroke="#262626" stroke-width="1.0" />
<line x1="1005.50" y1="567.50" x2="1005.50" y2="571.00" stroke="#262626" stroke-width="1.0" />
<line x1="1017.50" y1="567.50" x2="1017.50" y2="574.50" stroke="#262626" stroke-width="1.0" />
<line x1="1030.50" y1="567.50" x2="1030.50" y2="571.00" stroke="#262626" stroke-width="1.0" />
<line x1="1043.50" y1="567.50" x2="1043.50" y2="571.00" stroke="#262626" stroke-width="1.0" />
<line x1="1055.50" y1="567.50" x2="1055.50" y2="571.00" stroke="#262626" stroke-width="1.0" />
<line x1="1068.50" y1="567.50" x2="1068.50" y2="574.50" stroke="#262626" stroke-width="1.0" />
<line x1="1081.50" y1="567.50" x2="1081.50" y2="571.00" stroke="#262626" stroke-width="1.0" />
<line x1="1094.50" y1="567.50" x2="1094.50" y2="571.00" stroke="#262626" stroke-width="1.0" />
<line x1="1106.50" y1="567.50" x2="1106.50" y2="571.00" stroke="#262626" stroke-width="1.0" />
<line x1="1119.50" y1="567.50" x2="1119.50" y2="574.50" stroke="#262626" stroke-width="1.0" />
<line x1="1132.50" y1="567.50" x2="1132.50" y2="571.00" stroke="#262626" stroke-width="1.0" />
<line x1="1145.50" y1="567.50" x2="1145.50" y2="571.00" stroke="#262626" stroke-width="1.0" />
<line x1="1157.50" y1="567.50" x2="1157.50" y2="571.00" stroke="#262626" stroke-width="1.0" />
<line x1="1170.50" y1="567.50" x2="1170.50" y2="574.50" stroke="#262626" stroke-width="1.0" />
<text transform="translate(639.33,591.00) scale(1.0376,1)" font-size="14.72" font-weight="normal" fill="#262626">15Aug</text>
<text transform="translate(649.17,606.50) scale(1.0460,1)" font-size="14.72" font-weight="normal" fill="#262626">00z</text>
<text transform="translate(690.23,591.00) scale(1.0376,1)" font-size="14.72" font-weight="normal" fill="#262626">16Aug</text>
<text transform="translate(700.07,606.50) scale(1.0460,1)" font-size="14.72" font-weight="normal" fill="#262626">00z</text>
<text transform="translate(741.13,591.00) scale(1.0376,1)" font-size="14.72" font-weight="normal" fill="#262626">17Aug</text>
<text transform="translate(750.97,606.50) scale(1.0460,1)" font-size="14.72" font-weight="normal" fill="#262626">00z</text>
<text transform="translate(792.03,591.00) scale(1.0376,1)" font-size="14.72" font-weight="normal" fill="#262626">18Aug</text>
<text transform="translate(801.87,606.50) scale(1.0460,1)" font-size="14.72" font-weight="normal" fill="#262626">00z</text>
<text transform="translate(842.93,591.00) scale(1.0376,1)" font-size="14.72" font-weight="normal" fill="#262626">19Aug</text>
<text transform="translate(852.77,606.50) scale(1.0460,1)" font-size="14.72" font-weight="normal" fill="#262626">00z</text>
<text transform="translate(893.97,591.00) scale(1.0403,1)" font-size="14.72" font-weight="normal" fill="#262626">20Aug</text>
<text transform="translate(903.67,606.50) scale(1.0460,1)" font-size="14.72" font-weight="normal" fill="#262626">00z</text>
<text transform="translate(944.87,591.00) scale(1.0403,1)" font-size="14.72" font-weight="normal" fill="#262626">21Aug</text>
<text transform="translate(954.57,606.50) scale(1.0460,1)" font-size="14.72" font-weight="normal" fill="#262626">00z</text>
<text transform="translate(995.77,591.00) scale(1.0403,1)" font-size="14.72" font-weight="normal" fill="#262626">22Aug</text>
<text transform="translate(1005.47,606.50) scale(1.0460,1)" font-size="14.72" font-weight="normal" fill="#262626">00z</text>
<text transform="translate(1046.67,591.00) scale(1.0403,1)" font-size="14.72" font-weight="normal" fill="#262626">23Aug</text>
<text transform="translate(1056.37,606.50) scale(1.0460,1)" font-size="14.72" font-weight="normal" fill="#262626">00z</text>
<text transform="translate(1097.57,591.00) scale(1.0403,1)" font-size="14.72" font-weight="normal" fill="#262626">24Aug</text>
<text transform="translate(1107.27,606.50) scale(1.0460,1)" font-size="14.72" font-weight="normal" fill="#262626">00z</text>
<text transform="translate(1148.47,591.00) scale(1.0403,1)" font-size="14.72" font-weight="normal" fill="#262626">25Aug</text>
<text transform="translate(1158.17,606.50) scale(1.0460,1)" font-size="14.72" font-weight="normal" fill="#262626">00z</text>
<text transform="translate(620.90,446.00) rotate(-90) translate(-94.91,0) scale(1.0347,1)" font-size="17.66" font-weight="normal" fill="#262626">Sea Surface Temp (°C)</text>
<text transform="translate(1130.50,340.70) scale(0.9806,1)" font-size="17.66" font-weight="bold" fill="#262626">SST</text>
<line x1="672.50" y1="338.50" x2="695.00" y2="338.50" stroke="#e41a1c" stroke-width="3.0" />
<text transform="translate(709.35,342.80) scale(0.9021,1)" font-size="14.41" font-weight="normal" fill="#262626">GFS</text>
<line x1="672.50" y1="353.95" x2="695.00" y2="353.95" stroke="#4daf4a" stroke-width="3.0" />
<text transform="translate(708.86,358.25) scale(0.9640,1)" font-size="14.41" font-weight="normal" fill="#262626">HMON</text>
<line x1="672.50" y1="369.40" x2="695.00" y2="369.40" stroke="#ebb90f" stroke-width="3.0" />
<text transform="translate(709.32,373.70) scale(0.9276,1)" font-size="14.41" font-weight="normal" fill="#262626">CTCX</text>
<line x1="672.50" y1="384.85" x2="695.00" y2="384.85" stroke="#377eb8" stroke-width="3.0" />
<text transform="translate(708.89,389.15) scale(0.9364,1)" font-size="14.41" font-weight="normal" fill="#262626">HWRF</text>
<rect x="661.5" y="733.50" width="509.0" height="61.00" fill="#cccccc"/>
<rect x="661.5" y="611.50" width="509.0" height="61.00" fill="#cccccc"/>
<line x1="890.50" y1="611.50" x2="890.50" y2="855.50" stroke="#ebb90f" stroke-width="1.3" />
<line x1="903.50" y1="611.50" x2="903.50" y2="855.50" stroke="#8a8a85" stroke-width="2.8" />
<line x1="903.50" y1="611.50" x2="903.50" y2="855.50" stroke="#377eb8" stroke-width="1.5" />
<polyline points="661.50,730.45 674.23,733.35 686.95,724.04 699.67,741.43 712.40,749.97 725.12,752.41 737.85,748.75 750.58,756.07 763.30,763.39 776.02,770.10 788.75,774.67 801.48,786.88 814.20,791.75 826.92,792.37 839.65,790.53 852.38,796.02 865.10,799.08 877.83,805.78 890.55,806.39 903.27,816.46" fill="none" stroke="#e41a1c" stroke-width="3.0" stroke-linejoin="round" stroke-linecap="square" clip-path="url(#a5)" />
<polyline points="661.50,732.59 674.23,734.11 686.95,724.65 699.67,743.26 712.40,751.50 725.12,752.11 737.85,747.23 750.58,759.42 763.30,765.22 776.02,769.19 788.75,773.46 801.48,786.88 814.20,792.06 826.92,793.59 839.65,791.75 852.38,793.59 865.10,798.77 877.83,802.43 890.55,803.35 903.27,812.80" fill="none" stroke="#4daf4a" stroke-width="3.0" stroke-linejoin="round" stroke-linecap="square" clip-path="url(#a5)" />
<polyline points="661.50,730.14 674.23,734.72 686.95,719.47 699.67,739.29 712.40,748.75 725.12,755.46 737.85,743.87 750.58,760.64 763.30,767.97 776.02,775.28 788.75,773.76 801.48,788.10 814.20,792.37 826.92,793.59 839.65,794.19 852.38,799.69 865.10,798.47 877.83,803.35 890.55,803.35 903.27,814.02" fill="none" stroke="#377eb8" stroke-width="3.0" stroke-linejoin="round" stroke-linecap="square" clip-path="url(#a5)" />
<polyline points="661.50,724.65 674.23,731.98 686.95,726.79 699.67,739.29 712.40,749.97 725.12,752.72 737.85,749.36 750.58,760.03 763.30,766.75 776.02,772.54 788.75,776.20 801.48,786.26 814.20,791.75 826.92,794.81 839.65,793.59 852.38,797.25 865.10,800.90 877.83,804.56 890.55,805.17" fill="none" stroke="#ebb90f" stroke-width="3.0" stroke-linejoin="round" stroke-linecap="square" clip-path="url(#a5)" />
<polyline points="903.27,816.46 916.00,815.24 928.73,813.11 941.45,824.09 954.17,827.13 966.90,825.61 979.62,828.05 992.35,828.05 1005.08,825.00 1017.80,824.09 1030.53,825.00 1043.25,817.99 1055.97,813.11 1068.70,819.36 1081.42,817.68 1094.15,820.42 1106.88,817.68 1119.60,816.00 1132.33,811.58 1145.05,808.84 1157.78,804.26 1170.50,796.94" fill="none" stroke="#e41a1c" stroke-width="3.0" stroke-linejoin="round" stroke-linecap="square" clip-path="url(#a5)" />
<polyline points="903.27,812.80 916.00,811.58 928.73,809.14 941.45,822.87 954.17,819.21 966.90,819.21 979.62,817.68 992.35,819.21 1005.08,817.68 1017.80,821.34 1030.53,824.39 1043.25,826.98 1055.97,827.75 1068.70,835.07 1081.42,831.10 1094.15,836.89 1106.88,836.89 1119.60,839.64 1132.33,842.38 1145.05,844.22 1157.78,839.64 1170.50,836.28" fill="none" stroke="#4daf4a" stroke-width="3.0" stroke-linejoin="round" stroke-linecap="square" clip-path="url(#a5)" />
<polyline points="890.55,805.17 903.27,812.19 916.00,812.19 928.73,814.63 941.45,821.86 954.17,827.59 966.90,830.18 979.62,828.66 992.35,830.18 1005.08,828.05 1017.80,826.52 1030.53,827.13 1043.25,828.81 1055.97,827.13 1068.70,828.97 1081.42,826.22 1094.15,821.03 1106.88,819.36 1119.60,821.03 1132.33,819.36 1145.05,813.11 1157.78,800.90" fill="none" stroke="#ebb90f" stroke-width="3.0" stroke-linejoin="round" stroke-linecap="square" clip-path="url(#a5)" />
<polyline points="903.27,814.02 916.00,812.80 928.73,810.66 941.45,818.75 954.17,822.25 966.90,822.25 979.62,822.25 992.35,822.25 1005.08,825.91 1017.80,829.27 1030.53,829.27 1043.25,822.56 1055.97,823.78 1068.70,825.61 1081.42,830.64 1094.15,831.71 1106.88,828.36 1119.60,825.61 1132.33,825.61 1145.05,824.39 1157.78,819.97 1170.50,816.46" fill="none" stroke="#377eb8" stroke-width="3.0" stroke-linejoin="round" stroke-linecap="square" clip-path="url(#a5)" />
<circle cx="890.55" cy="805.17" r="3.6" fill="#ebb90f" stroke="none" stroke-width="0"/>
<circle cx="903.27" cy="814.02" r="3.6" fill="#377eb8" stroke="none" stroke-width="0"/>
<rect x="661.5" y="611.5" width="509.0" height="244.0" fill="none" stroke="#262626" stroke-width="1.1"/>
<line x1="658.00" y1="855.50" x2="661.50" y2="855.50" stroke="#262626" stroke-width="1.0" />
<line x1="658.00" y1="840.50" x2="661.50" y2="840.50" stroke="#262626" stroke-width="1.0" />
<line x1="658.00" y1="825.50" x2="661.50" y2="825.50" stroke="#262626" stroke-width="1.0" />
<line x1="658.00" y1="809.50" x2="661.50" y2="809.50" stroke="#262626" stroke-width="1.0" />
<line x1="658.00" y1="794.50" x2="661.50" y2="794.50" stroke="#262626" stroke-width="1.0" />
<line x1="658.00" y1="779.50" x2="661.50" y2="779.50" stroke="#262626" stroke-width="1.0" />
<line x1="658.00" y1="764.50" x2="661.50" y2="764.50" stroke="#262626" stroke-width="1.0" />
<line x1="658.00" y1="748.50" x2="661.50" y2="748.50" stroke="#262626" stroke-width="1.0" />
<line x1="658.00" y1="733.50" x2="661.50" y2="733.50" stroke="#262626" stroke-width="1.0" />
<line x1="658.00" y1="718.50" x2="661.50" y2="718.50" stroke="#262626" stroke-width="1.0" />
<line x1="658.00" y1="703.50" x2="661.50" y2="703.50" stroke="#262626" stroke-width="1.0" />
<line x1="658.00" y1="687.50" x2="661.50" y2="687.50" stroke="#262626" stroke-width="1.0" />
<line x1="658.00" y1="672.50" x2="661.50" y2="672.50" stroke="#262626" stroke-width="1.0" />
<line x1="658.00" y1="657.50" x2="661.50" y2="657.50" stroke="#262626" stroke-width="1.0" />
<line x1="658.00" y1="642.50" x2="661.50" y2="642.50" stroke="#262626" stroke-width="1.0" />
<line x1="658.00" y1="626.50" x2="661.50" y2="626.50" stroke="#262626" stroke-width="1.0" />
<line x1="658.00" y1="611.50" x2="661.50" y2="611.50" stroke="#262626" stroke-width="1.0" />
<line x1="654.50" y1="855.50" x2="661.50" y2="855.50" stroke="#262626" stroke-width="1.0" />
<text transform="translate(630.99,859.10) scale(1.0451,1)" font-size="14.72" font-weight="normal" fill="#262626">20</text>
<line x1="654.50" y1="794.50" x2="661.50" y2="794.50" stroke="#262626" stroke-width="1.0" />
<text transform="translate(631.07,798.10) scale(1.0398,1)" font-size="14.72" font-weight="normal" fill="#262626">40</text>
<line x1="654.50" y1="733.50" x2="661.50" y2="733.50" stroke="#262626" stroke-width="1.0" />
<text transform="translate(630.93,737.10) scale(1.0488,1)" font-size="14.72" font-weight="normal" fill="#262626">60</text>
<line x1="654.50" y1="672.50" x2="661.50" y2="672.50" stroke="#262626" stroke-width="1.0" />
<text transform="translate(631.02,676.10) scale(1.0431,1)" font-size="14.72" font-weight="normal" fill="#262626">80</text>
<line x1="654.50" y1="611.50" x2="661.50" y2="611.50" stroke="#262626" stroke-width="1.0" />
<text transform="translate(622.26,615.10) scale(1.0526,1)" font-size="14.72" font-weight="normal" fill="#262626">100</text>
<line x1="661.50" y1="855.50" x2="661.50" y2="862.50" stroke="#262626" stroke-width="1.0" />
<line x1="674.50" y1="855.50" x2="674.50" y2="859.00" stroke="#262626" stroke-width="1.0" />
<line x1="686.50" y1="855.50" x2="686.50" y2="859.00" stroke="#262626" stroke-width="1.0" />
<line x1="699.50" y1="855.50" x2="699.50" y2="859.00" stroke="#262626" stroke-width="1.0" />
<line x1="712.50" y1="855.50" x2="712.50" y2="862.50" stroke="#262626" stroke-width="1.0" />
<line x1="725.50" y1="855.50" x2="725.50" y2="859.00" stroke="#262626" stroke-width="1.0" />
<line x1="737.50" y1="855.50" x2="737.50" y2="859.00" stroke="#262626" stroke-width="1.0" />
<line x1="750.50" y1="855.50" x2="750.50" y2="859.00" stroke="#262626" stroke-width="1.0" />
<line x1="763.50" y1="855.50" x2="763.50" y2="862.50" stroke="#262626" stroke-width="1.0" />
<line x1="776.50" y1="855.50" x2="776.50" y2="859.00" stroke="#262626" stroke-width="1.0" />
<line x1="788.50" y1="855.50" x2="788.50" y2="859.00" stroke="#262626" stroke-width="1.0" />
<line x1="801.50" y1="855.50" x2="801.50" y2="859.00" stroke="#262626" stroke-width="1.0" />
<line x1="814.50" y1="855.50" x2="814.50" y2="862.50" stroke="#262626" stroke-width="1.0" />
<line x1="826.50" y1="855.50" x2="826.50" y2="859.00" stroke="#262626" stroke-width="1.0" />
<line x1="839.50" y1="855.50" x2="839.50" y2="859.00" stroke="#262626" stroke-width="1.0" />
<line x1="852.50" y1="855.50" x2="852.50" y2="859.00" stroke="#262626" stroke-width="1.0" />
<line x1="865.50" y1="855.50" x2="865.50" y2="862.50" stroke="#262626" stroke-width="1.0" />
<line x1="877.50" y1="855.50" x2="877.50" y2="859.00" stroke="#262626" stroke-width="1.0" />
<line x1="890.50" y1="855.50" x2="890.50" y2="859.00" stroke="#262626" stroke-width="1.0" />
<line x1="903.50" y1="855.50" x2="903.50" y2="859.00" stroke="#262626" stroke-width="1.0" />
<line x1="916.50" y1="855.50" x2="916.50" y2="862.50" stroke="#262626" stroke-width="1.0" />
<line x1="928.50" y1="855.50" x2="928.50" y2="859.00" stroke="#262626" stroke-width="1.0" />
<line x1="941.50" y1="855.50" x2="941.50" y2="859.00" stroke="#262626" stroke-width="1.0" />
<line x1="954.50" y1="855.50" x2="954.50" y2="859.00" stroke="#262626" stroke-width="1.0" />
<line x1="966.50" y1="855.50" x2="966.50" y2="862.50" stroke="#262626" stroke-width="1.0" />
<line x1="979.50" y1="855.50" x2="979.50" y2="859.00" stroke="#262626" stroke-width="1.0" />
<line x1="992.50" y1="855.50" x2="992.50" y2="859.00" stroke="#262626" stroke-width="1.0" />
<line x1="1005.50" y1="855.50" x2="1005.50" y2="859.00" stroke="#262626" stroke-width="1.0" />
<line x1="1017.50" y1="855.50" x2="1017.50" y2="862.50" stroke="#262626" stroke-width="1.0" />
<line x1="1030.50" y1="855.50" x2="1030.50" y2="859.00" stroke="#262626" stroke-width="1.0" />
<line x1="1043.50" y1="855.50" x2="1043.50" y2="859.00" stroke="#262626" stroke-width="1.0" />
<line x1="1055.50" y1="855.50" x2="1055.50" y2="859.00" stroke="#262626" stroke-width="1.0" />
<line x1="1068.50" y1="855.50" x2="1068.50" y2="862.50" stroke="#262626" stroke-width="1.0" />
<line x1="1081.50" y1="855.50" x2="1081.50" y2="859.00" stroke="#262626" stroke-width="1.0" />
<line x1="1094.50" y1="855.50" x2="1094.50" y2="859.00" stroke="#262626" stroke-width="1.0" />
<line x1="1106.50" y1="855.50" x2="1106.50" y2="859.00" stroke="#262626" stroke-width="1.0" />
<line x1="1119.50" y1="855.50" x2="1119.50" y2="862.50" stroke="#262626" stroke-width="1.0" />
<line x1="1132.50" y1="855.50" x2="1132.50" y2="859.00" stroke="#262626" stroke-width="1.0" />
<line x1="1145.50" y1="855.50" x2="1145.50" y2="859.00" stroke="#262626" stroke-width="1.0" />
<line x1="1157.50" y1="855.50" x2="1157.50" y2="859.00" stroke="#262626" stroke-width="1.0" />
<line x1="1170.50" y1="855.50" x2="1170.50" y2="862.50" stroke="#262626" stroke-width="1.0" />
<text transform="translate(639.33,878.60) scale(1.0376,1)" font-size="14.72" font-weight="normal" fill="#262626">15Aug</text>
<text transform="translate(649.17,894.10) scale(1.0460,1)" font-size="14.72" font-weight="normal" fill="#262626">00z</text>
<text transform="translate(690.23,878.60) scale(1.0376,1)" font-size="14.72" font-weight="normal" fill="#262626">16Aug</text>
<text transform="translate(700.07,894.10) scale(1.0460,1)" font-size="14.72" font-weight="normal" fill="#262626">00z</text>
<text transform="translate(741.13,878.60) scale(1.0376,1)" font-size="14.72" font-weight="normal" fill="#262626">17Aug</text>
<text transform="translate(750.97,894.10) scale(1.0460,1)" font-size="14.72" font-weight="normal" fill="#262626">00z</text>
<text transform="translate(792.03,878.60) scale(1.0376,1)" font-size="14.72" font-weight="normal" fill="#262626">18Aug</text>
<text transform="translate(801.87,894.10) scale(1.0460,1)" font-size="14.72" font-weight="normal" fill="#262626">00z</text>
<text transform="translate(842.93,878.60) scale(1.0376,1)" font-size="14.72" font-weight="normal" fill="#262626">19Aug</text>
<text transform="translate(852.77,894.10) scale(1.0460,1)" font-size="14.72" font-weight="normal" fill="#262626">00z</text>
<text transform="translate(893.97,878.60) scale(1.0403,1)" font-size="14.72" font-weight="normal" fill="#262626">20Aug</text>
<text transform="translate(903.67,894.10) scale(1.0460,1)" font-size="14.72" font-weight="normal" fill="#262626">00z</text>
<text transform="translate(944.87,878.60) scale(1.0403,1)" font-size="14.72" font-weight="normal" fill="#262626">21Aug</text>
<text transform="translate(954.57,894.10) scale(1.0460,1)" font-size="14.72" font-weight="normal" fill="#262626">00z</text>
<text transform="translate(995.77,878.60) scale(1.0403,1)" font-size="14.72" font-weight="normal" fill="#262626">22Aug</text>
<text transform="translate(1005.47,894.10) scale(1.0460,1)" font-size="14.72" font-weight="normal" fill="#262626">00z</text>
<text transform="translate(1046.67,878.60) scale(1.0403,1)" font-size="14.72" font-weight="normal" fill="#262626">23Aug</text>
<text transform="translate(1056.37,894.10) scale(1.0460,1)" font-size="14.72" font-weight="normal" fill="#262626">00z</text>
<text transform="translate(1097.57,878.60) scale(1.0403,1)" font-size="14.72" font-weight="normal" fill="#262626">24Aug</text>
<text transform="translate(1107.27,894.10) scale(1.0460,1)" font-size="14.72" font-weight="normal" fill="#262626">00z</text>
<text transform="translate(1148.47,878.60) scale(1.0403,1)" font-size="14.72" font-weight="normal" fill="#262626">25Aug</text>
<text transform="translate(1158.17,894.10) scale(1.0460,1)" font-size="14.72" font-weight="normal" fill="#262626">00z</text>
<text transform="translate(620.90,733.50) rotate(-90) translate(-109.97,0) scale(1.0627,1)" font-size="17.66" font-weight="normal" fill="#262626">700-500 hPa Humidity (%)</text>
<text transform="translate(1041.39,627.60) scale(1.1077,1)" font-size="17.66" font-weight="bold" fill="#262626">Mid-Level RH</text>
<line x1="672.50" y1="792.60" x2="695.00" y2="792.60" stroke="#e41a1c" stroke-width="3.0" />
<text transform="translate(709.35,796.90) scale(0.9021,1)" font-size="14.41" font-weight="normal" fill="#262626">GFS</text>
<line x1="672.50" y1="808.05" x2="695.00" y2="808.05" stroke="#4daf4a" stroke-width="3.0" />
<text transform="translate(708.86,812.35) scale(0.9640,1)" font-size="14.41" font-weight="normal" fill="#262626">HMON</text>
<line x1="672.50" y1="823.50" x2="695.00" y2="823.50" stroke="#ebb90f" stroke-width="3.0" />
<text transform="translate(709.32,827.80) scale(0.9276,1)" font-size="14.41" font-weight="normal" fill="#262626">CTCX</text>
<line x1="672.50" y1="838.95" x2="695.00" y2="838.95" stroke="#377eb8" stroke-width="3.0" />
<text transform="translate(708.89,843.25) scale(0.9364,1)" font-size="14.41" font-weight="normal" fill="#262626">HWRF</text>
<polygon points="259.0,601.3 261.3,603.0 265.6,604.3 269.4,606.4 269.8,608.5 273.2,611.4 270.6,613.6 265.6,616.1 261.8,619.1 259.0,617.0 258.8,612.7 257.1,608.9 258.0,606.8 259.6,604.3" fill="#c8c8c8"/>
<polygon points="248.2,591.4 249.9,592.0 253.3,592.4 257.5,594.6 256.3,595.8 252.0,596.7 251.2,595.0 248.7,593.3" fill="#c8c8c8"/>
<polygon points="243.2,592.0 245.4,592.6 246.1,594.2 244.6,594.8 243.6,593.6" fill="#c8c8c8"/>
<polygon points="239.8,588.6 247.4,589.0 247.2,590.0 240.0,590.2" fill="#c8c8c8"/>
<polygon points="227.8,584.7 231.0,584.5 234.6,586.8 232.0,587.6" fill="#c8c8c8"/>
<polygon points="248.0,597.0 250.0,597.1 249.2,597.9" fill="#c8c8c8"/>
<polygon points="207.0,577.0 212.0,577.5 211.0,579.0 208.0,578.6" fill="#c8c8c8"/>
<polyline points="580.00,626.00 575.40,624.10 558.40,617.10 536.90,611.30 515.80,608.90 497.20,610.10" fill="none" stroke="#262626" stroke-width="2.6" stroke-linejoin="round" stroke-linecap="square" clip-path="url(#tr)" />
<circle cx="516.50" cy="609.00" r="3.3" fill="#ffffff" stroke="#262626" stroke-width="1.3"/>
<polyline points="497.20,607.80 450.00,603.00 392.00,596.00 330.00,586.50 296.00,582.00 264.00,579.00 240.50,574.50 220.00,572.00 200.00,572.50 160.50,569.50 141.20,566.50" fill="none" stroke="#e41a1c" stroke-width="2.6" stroke-linejoin="round" stroke-linecap="square" clip-path="url(#tr)" />
<polyline points="497.00,610.00 450.00,605.00 385.00,599.00 340.00,592.00 320.00,588.50 296.00,586.00 257.00,586.50 225.00,582.50 200.00,582.80 180.00,587.50 158.50,587.00 136.00,587.50" fill="none" stroke="#4daf4a" stroke-width="2.6" stroke-linejoin="round" stroke-linecap="square" clip-path="url(#tr)" />
<polyline points="520.50,609.50 440.00,598.00 420.00,596.50 392.00,595.50 330.00,587.00 300.00,581.00 255.00,584.00 230.00,579.50 210.00,580.50 195.00,584.50 180.00,586.50 170.00,588.00 151.30,593.30" fill="none" stroke="#ebb90f" stroke-width="2.6" stroke-linejoin="round" stroke-linecap="square" clip-path="url(#tr)" />
<polyline points="497.00,611.00 450.00,604.00 392.00,595.00 330.00,585.00 296.00,581.00 274.00,579.00 260.00,581.50 220.00,583.00 185.00,581.50 145.50,582.20 119.50,583.00" fill="none" stroke="#377eb8" stroke-width="2.6" stroke-linejoin="round" stroke-linecap="square" clip-path="url(#tr)" />
<polyline points="493.70,611.30 460.00,608.10 450.00,606.30 392.00,597.00 330.00,586.00 325.00,584.00 300.00,574.50 286.00,575.50 275.50,572.00 260.00,576.50" fill="none" stroke="#56c3f0" stroke-width="2.6" stroke-linejoin="round" stroke-linecap="square" clip-path="url(#tr)" />
<polyline points="472.10,609.50 460.00,605.80 450.00,604.30 392.00,597.00 330.00,589.50 296.00,584.50 266.00,580.50 220.00,576.50 204.00,574.50" fill="none" stroke="#7f7f7f" stroke-width="2.6" stroke-linejoin="round" stroke-linecap="square" clip-path="url(#tr)" />
<circle cx="558.40" cy="617.10" r="3.6" fill="#262626" stroke="none" stroke-width="0" clip-path="url(#tr)"/>
<circle cx="474.40" cy="601.50" r="3.6" fill="#262626" stroke="none" stroke-width="0" clip-path="url(#tr)"/>
<circle cx="474.40" cy="605.50" r="3.6" fill="#262626" stroke="none" stroke-width="0" clip-path="url(#tr)"/>
<circle cx="398.00" cy="593.50" r="3.6" fill="#262626" stroke="none" stroke-width="0" clip-path="url(#tr)"/>
<circle cx="392.00" cy="594.00" r="3.6" fill="#262626" stroke="none" stroke-width="0" clip-path="url(#tr)"/>
<circle cx="392.00" cy="600.00" r="3.6" fill="#262626" stroke="none" stroke-width="0" clip-path="url(#tr)"/>
<circle cx="370.00" cy="594.50" r="3.6" fill="#262626" stroke="none" stroke-width="0" clip-path="url(#tr)"/>
<circle cx="341.00" cy="592.00" r="3.6" fill="#262626" stroke="none" stroke-width="0" clip-path="url(#tr)"/>
<circle cx="331.00" cy="584.00" r="3.6" fill="#262626" stroke="none" stroke-width="0" clip-path="url(#tr)"/>
<circle cx="331.00" cy="590.00" r="3.6" fill="#262626" stroke="none" stroke-width="0" clip-path="url(#tr)"/>
<circle cx="329.50" cy="583.00" r="3.6" fill="#262626" stroke="none" stroke-width="0" clip-path="url(#tr)"/>
<circle cx="329.50" cy="590.00" r="3.6" fill="#262626" stroke="none" stroke-width="0" clip-path="url(#tr)"/>
<circle cx="275.50" cy="572.00" r="3.6" fill="#262626" stroke="none" stroke-width="0" clip-path="url(#tr)"/>
<circle cx="274.50" cy="585.00" r="3.6" fill="#262626" stroke="none" stroke-width="0" clip-path="url(#tr)"/>
<circle cx="266.50" cy="580.50" r="3.6" fill="#262626" stroke="none" stroke-width="0" clip-path="url(#tr)"/>
<circle cx="260.50" cy="583.00" r="3.6" fill="#262626" stroke="none" stroke-width="0" clip-path="url(#tr)"/>
<circle cx="200.50" cy="572.00" r="3.6" fill="#262626" stroke="none" stroke-width="0" clip-path="url(#tr)"/>
<circle cx="200.50" cy="576.50" r="3.6" fill="#262626" stroke="none" stroke-width="0" clip-path="url(#tr)"/>
<circle cx="185.50" cy="582.00" r="3.6" fill="#262626" stroke="none" stroke-width="0" clip-path="url(#tr)"/>
<circle cx="190.50" cy="586.50" r="3.6" fill="#262626" stroke="none" stroke-width="0" clip-path="url(#tr)"/>
<circle cx="430.00" cy="602.00" r="3.3" fill="#ffffff" stroke="#262626" stroke-width="1.3" clip-path="url(#tr)"/>
<circle cx="435.50" cy="598.00" r="3.3" fill="#ffffff" stroke="#262626" stroke-width="1.3" clip-path="url(#tr)"/>
<circle cx="437.50" cy="602.00" r="3.3" fill="#ffffff" stroke="#262626" stroke-width="1.3" clip-path="url(#tr)"/>
<circle cx="360.00" cy="589.00" r="3.3" fill="#ffffff" stroke="#262626" stroke-width="1.3" clip-path="url(#tr)"/>
<circle cx="361.00" cy="593.00" r="3.3" fill="#ffffff" stroke="#262626" stroke-width="1.3" clip-path="url(#tr)"/>
<circle cx="360.50" cy="595.50" r="3.3" fill="#ffffff" stroke="#262626" stroke-width="1.3" clip-path="url(#tr)"/>
<circle cx="300.00" cy="575.00" r="3.3" fill="#ffffff" stroke="#262626" stroke-width="1.3" clip-path="url(#tr)"/>
<circle cx="308.00" cy="582.00" r="3.3" fill="#ffffff" stroke="#262626" stroke-width="1.3" clip-path="url(#tr)"/>
<circle cx="297.50" cy="585.50" r="3.3" fill="#ffffff" stroke="#262626" stroke-width="1.3" clip-path="url(#tr)"/>
<circle cx="294.00" cy="585.50" r="3.3" fill="#ffffff" stroke="#262626" stroke-width="1.3" clip-path="url(#tr)"/>
<circle cx="303.50" cy="585.50" r="3.3" fill="#ffffff" stroke="#262626" stroke-width="1.3" clip-path="url(#tr)"/>
<circle cx="240.50" cy="575.00" r="3.3" fill="#ffffff" stroke="#262626" stroke-width="1.3" clip-path="url(#tr)"/>
<circle cx="240.50" cy="583.00" r="3.3" fill="#ffffff" stroke="#262626" stroke-width="1.3" clip-path="url(#tr)"/>
<circle cx="222.50" cy="583.50" r="3.3" fill="#ffffff" stroke="#262626" stroke-width="1.3" clip-path="url(#tr)"/>
<circle cx="160.50" cy="569.50" r="3.3" fill="#ffffff" stroke="#262626" stroke-width="1.3" clip-path="url(#tr)"/>
<circle cx="145.50" cy="582.20" r="3.3" fill="#ffffff" stroke="#262626" stroke-width="1.3" clip-path="url(#tr)"/>
<circle cx="158.50" cy="587.00" r="3.3" fill="#ffffff" stroke="#262626" stroke-width="1.3" clip-path="url(#tr)"/>
<circle cx="151.30" cy="593.30" r="3.3" fill="#ffffff" stroke="#262626" stroke-width="1.3" clip-path="url(#tr)"/>
<circle cx="520.50" cy="609.50" r="4.0" fill="#ebb90f" stroke="none" stroke-width="0"/>
<circle cx="493.70" cy="611.30" r="4.0" fill="#56c3f0" stroke="none" stroke-width="0"/>
<circle cx="472.10" cy="609.50" r="4.0" fill="#7f7f7f" stroke="none" stroke-width="0"/>
<rect x="66.5" y="335.5" width="509.0" height="509.0" fill="none" stroke="#262626" stroke-width="1.1"/>
<text transform="translate(26.12,403.80) scale(1.0470,1)" font-size="14.72" font-weight="normal" fill="#000000">35°N</text>
<text transform="translate(26.12,472.20) scale(1.0470,1)" font-size="14.72" font-weight="normal" fill="#000000">30°N</text>
<text transform="translate(25.89,540.60) scale(1.0544,1)" font-size="14.72" font-weight="normal" fill="#000000">25°N</text>
<text transform="translate(25.89,609.00) scale(1.0544,1)" font-size="14.72" font-weight="normal" fill="#000000">20°N</text>
<text transform="translate(26.00,677.40) scale(1.0509,1)" font-size="14.72" font-weight="normal" fill="#000000">15°N</text>
<text transform="translate(26.00,745.80) scale(1.0509,1)" font-size="14.72" font-weight="normal" fill="#000000">10°N</text>
<text transform="translate(34.95,814.20) scale(1.0361,1)" font-size="14.72" font-weight="normal" fill="#000000">5°N</text>
<text transform="translate(42.47,870.70) scale(1.0475,1)" font-size="14.72" font-weight="normal" fill="#000000">170°W</text>
<text transform="translate(110.87,870.70) scale(1.0475,1)" font-size="14.72" font-weight="normal" fill="#000000">165°W</text>
<text transform="translate(179.27,870.70) scale(1.0475,1)" font-size="14.72" font-weight="normal" fill="#000000">160°W</text>
<text transform="translate(247.67,870.70) scale(1.0475,1)" font-size="14.72" font-weight="normal" fill="#000000">155°W</text>
<text transform="translate(316.07,870.70) scale(1.0475,1)" font-size="14.72" font-weight="normal" fill="#000000">150°W</text>
<text transform="translate(384.47,870.70) scale(1.0475,1)" font-size="14.72" font-weight="normal" fill="#000000">145°W</text>
<text transform="translate(452.87,870.70) scale(1.0475,1)" font-size="14.72" font-weight="normal" fill="#000000">140°W</text>
<text transform="translate(521.27,870.70) scale(1.0475,1)" font-size="14.72" font-weight="normal" fill="#000000">135°W</text>
<text transform="translate(517.89,354.70) scale(1.0777,1)" font-size="17.66" font-weight="bold" fill="#262626">Track</text>
<line x1="77.50" y1="349.40" x2="100.00" y2="349.40" stroke="#262626" stroke-width="2.8" />
<text transform="translate(113.90,353.80) scale(0.9292,1)" font-size="14.41" font-weight="normal" fill="#262626">BEST</text>
<line x1="77.50" y1="364.83" x2="100.00" y2="364.83" stroke="#e41a1c" stroke-width="2.8" />
<text transform="translate(114.35,369.23) scale(0.9021,1)" font-size="14.41" font-weight="normal" fill="#262626">GFS</text>
<line x1="77.50" y1="380.26" x2="100.00" y2="380.26" stroke="#4daf4a" stroke-width="2.8" />
<text transform="translate(113.86,384.66) scale(0.9640,1)" font-size="14.41" font-weight="normal" fill="#262626">HMON</text>
<line x1="77.50" y1="395.69" x2="100.00" y2="395.69" stroke="#ebb90f" stroke-width="2.8" />
<text transform="translate(114.32,400.09) scale(0.9276,1)" font-size="14.41" font-weight="normal" fill="#262626">CTCX</text>
<line x1="77.50" y1="411.12" x2="100.00" y2="411.12" stroke="#377eb8" stroke-width="2.8" />
<text transform="translate(113.89,415.52) scale(0.9364,1)" font-size="14.41" font-weight="normal" fill="#262626">HWRF</text>
<line x1="77.50" y1="426.55" x2="100.00" y2="426.55" stroke="#56c3f0" stroke-width="2.8" />
<text transform="translate(113.93,430.95) scale(0.9092,1)" font-size="14.41" font-weight="normal" fill="#262626">ECMF</text>
<line x1="77.50" y1="441.98" x2="100.00" y2="441.98" stroke="#7f7f7f" stroke-width="2.8" />
<text transform="translate(114.36,446.38) scale(0.9327,1)" font-size="14.41" font-weight="normal" fill="#262626">OFCL</text>
<defs><linearGradient id="lg" x1="0" y1="0" x2="0" y2="1"><stop offset="0" stop-color="#2f62b3"/><stop offset="1" stop-color="#1f3a8a"/></linearGradient><radialGradient id="earth" cx="0.3" cy="0.4" r="0.8"><stop offset="0" stop-color="#b8c4b8"/><stop offset="0.4" stop-color="#5a78b0"/><stop offset="1" stop-color="#2f4aa0"/></radialGradient><clipPath id="lc"><circle cx="90" cy="882.9" r="15"/></clipPath></defs>
<g>
<circle cx="16.8" cy="882.4" r="7.6" fill="url(#earth)"/>
<path d="M21.2 875.7 A7.75 10.25 0 1 0 21.2 888.8" fill="none" stroke="url(#lg)" stroke-width="4.0"/>
<path d="M19 870 H24.6 V875.5 L21.5 876.5 Q20 873.5 17 873.5 Z" fill="#2d5cad"/>
<path d="M17 891.2 Q20.5 891.2 22 888 L24.8 889 V894.5 H17 Z" fill="#1f3a8a"/>
<path d="M27.4 870 H32.2 L31.9 872 V892.5 L32.2 894.5 H27.4 L27.7 892.5 V872 Z" fill="url(#lg)"/>
<path fill-rule="evenodd" d="M36.5 870 H45.5 Q51.2 870 51.2 876.4 Q51.2 881.6 46.6 883 L55.5 894.5 H49.6 L41.8 883.6 V894.5 H36.5 Z M41.8 873.8 V880.2 H44.6 Q46.6 880.2 46.6 877 Q46.6 873.8 44.6 873.8 Z" fill="url(#lg)"/>
<path d="M50.4 894.5 L62.9 870.8 L74.3 894.5 Z" fill="url(#lg)"/>
<path d="M56.5 893 L59.5 886 L64.5 882.5 L62.5 888 L64 893 Z" fill="#e6e9ef"/>
<path d="M44 875 L47 878" stroke="#b8c8d8" stroke-width="1.4"/>
<g clip-path="url(#lc)">
<rect x="74" y="867" width="32" height="32" fill="#2389d3"/>
<path d="M74 888.5 L82.9 883.1 L87.8 885.3 L93.8 881.5 L99.2 884.8 L106 886 V899 H74 Z" fill="#3f3a9e"/>
<path d="M76 891.6 Q90 887.6 104 889.6" fill="none" stroke="#d8dcf0" stroke-width="0.9"/>
<text x="82.5" y="895.3" font-size="4.6" font-weight="bold" fill="#d8dcf0" style="font-family:Liberation Sans,sans-serif">RAMMB</text>
</g>
<ellipse cx="83.2" cy="879.5" rx="3.9" ry="1.5" fill="#eef4fb"/>
<ellipse cx="94.6" cy="876.6" rx="5.3" ry="1.9" fill="#eef4fb"/>
<path d="M99.5 890 L104.3 886.6 L102.8 889.8 Z" fill="#ffffff"/>
</g>
</svg>
</body></html>
